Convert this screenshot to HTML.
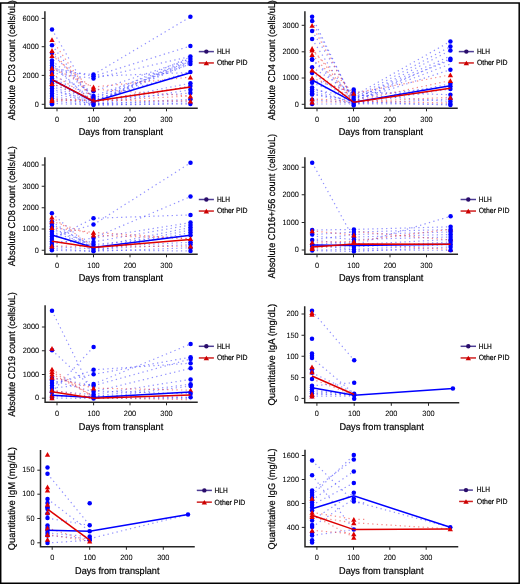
<!DOCTYPE html>
<html><head><meta charset="utf-8"><style>
html,body{margin:0;padding:0;background:#fff;}
body{width:520px;height:584px;overflow:hidden;}
svg{display:block;font-family:"Liberation Sans", sans-serif;text-rendering:geometricPrecision;will-change:transform;}
</style></head><body>
<svg width="520" height="584" viewBox="0 0 520 584">
<rect width="520" height="584" fill="#fff"/>
<line x1="52.00" y1="29.50" x2="93.50" y2="101.00" stroke="#4646ff" stroke-width="1.2" stroke-dasharray="1.3 3.3" stroke-opacity="0.6"/>
<line x1="52.00" y1="45.30" x2="93.50" y2="100.00" stroke="#4646ff" stroke-width="1.2" stroke-dasharray="1.3 3.3" stroke-opacity="0.6"/>
<line x1="52.00" y1="53.00" x2="93.50" y2="98.00" stroke="#4646ff" stroke-width="1.2" stroke-dasharray="1.3 3.3" stroke-opacity="0.6"/>
<line x1="52.00" y1="60.50" x2="93.50" y2="96.00" stroke="#4646ff" stroke-width="1.2" stroke-dasharray="1.3 3.3" stroke-opacity="0.6"/>
<line x1="52.00" y1="63.00" x2="93.50" y2="104.00" stroke="#4646ff" stroke-width="1.2" stroke-dasharray="1.3 3.3" stroke-opacity="0.6"/>
<line x1="52.00" y1="65.50" x2="93.50" y2="102.00" stroke="#4646ff" stroke-width="1.2" stroke-dasharray="1.3 3.3" stroke-opacity="0.6"/>
<line x1="52.00" y1="68.00" x2="93.50" y2="76.30" stroke="#4646ff" stroke-width="1.2" stroke-dasharray="1.3 3.3" stroke-opacity="0.6"/>
<line x1="52.00" y1="70.50" x2="93.50" y2="74.60" stroke="#4646ff" stroke-width="1.2" stroke-dasharray="1.3 3.3" stroke-opacity="0.6"/>
<line x1="52.00" y1="73.00" x2="93.50" y2="78.40" stroke="#4646ff" stroke-width="1.2" stroke-dasharray="1.3 3.3" stroke-opacity="0.6"/>
<line x1="52.00" y1="76.00" x2="93.50" y2="91.30" stroke="#4646ff" stroke-width="1.2" stroke-dasharray="1.3 3.3" stroke-opacity="0.6"/>
<line x1="52.00" y1="78.50" x2="93.50" y2="96.00" stroke="#4646ff" stroke-width="1.2" stroke-dasharray="1.3 3.3" stroke-opacity="0.6"/>
<line x1="52.00" y1="81.00" x2="93.50" y2="100.00" stroke="#4646ff" stroke-width="1.2" stroke-dasharray="1.3 3.3" stroke-opacity="0.6"/>
<line x1="52.00" y1="83.50" x2="93.50" y2="102.00" stroke="#4646ff" stroke-width="1.2" stroke-dasharray="1.3 3.3" stroke-opacity="0.6"/>
<line x1="52.00" y1="86.00" x2="93.50" y2="104.00" stroke="#4646ff" stroke-width="1.2" stroke-dasharray="1.3 3.3" stroke-opacity="0.6"/>
<line x1="52.00" y1="88.50" x2="93.50" y2="105.00" stroke="#4646ff" stroke-width="1.2" stroke-dasharray="1.3 3.3" stroke-opacity="0.6"/>
<line x1="52.00" y1="91.00" x2="93.50" y2="100.00" stroke="#4646ff" stroke-width="1.2" stroke-dasharray="1.3 3.3" stroke-opacity="0.6"/>
<line x1="52.00" y1="93.50" x2="93.50" y2="102.00" stroke="#4646ff" stroke-width="1.2" stroke-dasharray="1.3 3.3" stroke-opacity="0.6"/>
<line x1="52.00" y1="96.00" x2="93.50" y2="104.00" stroke="#4646ff" stroke-width="1.2" stroke-dasharray="1.3 3.3" stroke-opacity="0.6"/>
<line x1="52.00" y1="98.50" x2="93.50" y2="104.00" stroke="#4646ff" stroke-width="1.2" stroke-dasharray="1.3 3.3" stroke-opacity="0.6"/>
<line x1="52.00" y1="101.00" x2="93.50" y2="105.00" stroke="#4646ff" stroke-width="1.2" stroke-dasharray="1.3 3.3" stroke-opacity="0.6"/>
<line x1="52.00" y1="103.50" x2="93.50" y2="105.00" stroke="#4646ff" stroke-width="1.2" stroke-dasharray="1.3 3.3" stroke-opacity="0.6"/>
<line x1="52.00" y1="39.70" x2="93.50" y2="100.20" stroke="#ee4040" stroke-width="1.2" stroke-dasharray="1.3 3.3" stroke-opacity="0.6"/>
<line x1="52.00" y1="50.50" x2="93.50" y2="100.20" stroke="#ee4040" stroke-width="1.2" stroke-dasharray="1.3 3.3" stroke-opacity="0.6"/>
<line x1="52.00" y1="55.50" x2="93.50" y2="89.10" stroke="#ee4040" stroke-width="1.2" stroke-dasharray="1.3 3.3" stroke-opacity="0.6"/>
<line x1="52.00" y1="68.10" x2="93.50" y2="87.00" stroke="#ee4040" stroke-width="1.2" stroke-dasharray="1.3 3.3" stroke-opacity="0.6"/>
<line x1="52.00" y1="73.70" x2="93.50" y2="100.20" stroke="#ee4040" stroke-width="1.2" stroke-dasharray="1.3 3.3" stroke-opacity="0.6"/>
<line x1="52.00" y1="83.50" x2="93.50" y2="100.20" stroke="#ee4040" stroke-width="1.2" stroke-dasharray="1.3 3.3" stroke-opacity="0.6"/>
<line x1="52.00" y1="99.00" x2="93.50" y2="100.20" stroke="#ee4040" stroke-width="1.2" stroke-dasharray="1.3 3.3" stroke-opacity="0.6"/>
<line x1="52.00" y1="100.70" x2="93.50" y2="100.20" stroke="#ee4040" stroke-width="1.2" stroke-dasharray="1.3 3.3" stroke-opacity="0.6"/>
<line x1="93.50" y1="74.60" x2="190.40" y2="16.80" stroke="#4646ff" stroke-width="1.2" stroke-dasharray="1.3 3.3" stroke-opacity="0.6"/>
<line x1="93.50" y1="76.30" x2="190.40" y2="46.00" stroke="#4646ff" stroke-width="1.2" stroke-dasharray="1.3 3.3" stroke-opacity="0.6"/>
<line x1="93.50" y1="78.40" x2="190.40" y2="56.50" stroke="#4646ff" stroke-width="1.2" stroke-dasharray="1.3 3.3" stroke-opacity="0.6"/>
<line x1="93.50" y1="91.30" x2="190.40" y2="59.00" stroke="#4646ff" stroke-width="1.2" stroke-dasharray="1.3 3.3" stroke-opacity="0.6"/>
<line x1="93.50" y1="96.00" x2="190.40" y2="61.50" stroke="#4646ff" stroke-width="1.2" stroke-dasharray="1.3 3.3" stroke-opacity="0.6"/>
<line x1="93.50" y1="98.00" x2="190.40" y2="64.00" stroke="#4646ff" stroke-width="1.2" stroke-dasharray="1.3 3.3" stroke-opacity="0.6"/>
<line x1="93.50" y1="100.00" x2="190.40" y2="72.00" stroke="#4646ff" stroke-width="1.2" stroke-dasharray="1.3 3.3" stroke-opacity="0.6"/>
<line x1="93.50" y1="102.00" x2="190.40" y2="83.20" stroke="#4646ff" stroke-width="1.2" stroke-dasharray="1.3 3.3" stroke-opacity="0.6"/>
<line x1="93.50" y1="104.00" x2="190.40" y2="86.10" stroke="#4646ff" stroke-width="1.2" stroke-dasharray="1.3 3.3" stroke-opacity="0.6"/>
<line x1="93.50" y1="105.00" x2="190.40" y2="89.80" stroke="#4646ff" stroke-width="1.2" stroke-dasharray="1.3 3.3" stroke-opacity="0.6"/>
<line x1="93.50" y1="100.00" x2="190.40" y2="93.10" stroke="#4646ff" stroke-width="1.2" stroke-dasharray="1.3 3.3" stroke-opacity="0.6"/>
<line x1="93.50" y1="104.00" x2="190.40" y2="99.30" stroke="#4646ff" stroke-width="1.2" stroke-dasharray="1.3 3.3" stroke-opacity="0.6"/>
<line x1="93.50" y1="105.00" x2="190.40" y2="104.00" stroke="#4646ff" stroke-width="1.2" stroke-dasharray="1.3 3.3" stroke-opacity="0.6"/>
<line x1="93.50" y1="101.00" x2="190.40" y2="61.50" stroke="#4646ff" stroke-width="1.2" stroke-dasharray="1.3 3.3" stroke-opacity="0.6"/>
<line x1="93.50" y1="103.00" x2="190.40" y2="64.00" stroke="#4646ff" stroke-width="1.2" stroke-dasharray="1.3 3.3" stroke-opacity="0.6"/>
<line x1="93.50" y1="99.00" x2="190.40" y2="57.00" stroke="#4646ff" stroke-width="1.2" stroke-dasharray="1.3 3.3" stroke-opacity="0.6"/>
<line x1="93.50" y1="76.30" x2="190.40" y2="72.50" stroke="#4646ff" stroke-width="1.2" stroke-dasharray="1.3 3.3" stroke-opacity="0.6"/>
<line x1="93.50" y1="102.00" x2="190.40" y2="60.00" stroke="#4646ff" stroke-width="1.2" stroke-dasharray="1.3 3.3" stroke-opacity="0.6"/>
<line x1="93.50" y1="103.00" x2="190.40" y2="62.50" stroke="#4646ff" stroke-width="1.2" stroke-dasharray="1.3 3.3" stroke-opacity="0.6"/>
<line x1="93.50" y1="104.00" x2="190.40" y2="58.00" stroke="#4646ff" stroke-width="1.2" stroke-dasharray="1.3 3.3" stroke-opacity="0.6"/>
<line x1="93.50" y1="105.00" x2="190.40" y2="103.00" stroke="#4646ff" stroke-width="1.2" stroke-dasharray="1.3 3.3" stroke-opacity="0.6"/>
<line x1="93.50" y1="104.00" x2="190.40" y2="101.00" stroke="#4646ff" stroke-width="1.2" stroke-dasharray="1.3 3.3" stroke-opacity="0.6"/>
<line x1="93.50" y1="87.00" x2="190.40" y2="77.10" stroke="#ee4040" stroke-width="1.2" stroke-dasharray="1.3 3.3" stroke-opacity="0.6"/>
<line x1="93.50" y1="89.10" x2="190.40" y2="96.00" stroke="#ee4040" stroke-width="1.2" stroke-dasharray="1.3 3.3" stroke-opacity="0.6"/>
<line x1="93.50" y1="100.20" x2="190.40" y2="101.00" stroke="#ee4040" stroke-width="1.2" stroke-dasharray="1.3 3.3" stroke-opacity="0.6"/>
<line x1="93.50" y1="101.20" x2="190.40" y2="96.00" stroke="#ee4040" stroke-width="1.2" stroke-dasharray="1.3 3.3" stroke-opacity="0.6"/>
<line x1="93.50" y1="101.20" x2="190.40" y2="86.50" stroke="#ee4040" stroke-width="1.2" stroke-dasharray="1.3 3.3" stroke-opacity="0.6"/>
<circle cx="52.00" cy="29.50" r="2.25" fill="#0000ff"/>
<circle cx="52.00" cy="45.30" r="2.25" fill="#0000ff"/>
<circle cx="52.00" cy="53.00" r="2.25" fill="#0000ff"/>
<circle cx="52.00" cy="60.50" r="2.25" fill="#0000ff"/>
<circle cx="52.00" cy="63.00" r="2.25" fill="#0000ff"/>
<circle cx="52.00" cy="65.50" r="2.25" fill="#0000ff"/>
<circle cx="52.00" cy="68.00" r="2.25" fill="#0000ff"/>
<circle cx="52.00" cy="70.50" r="2.25" fill="#0000ff"/>
<circle cx="52.00" cy="73.00" r="2.25" fill="#0000ff"/>
<circle cx="52.00" cy="76.00" r="2.25" fill="#0000ff"/>
<circle cx="52.00" cy="78.50" r="2.25" fill="#0000ff"/>
<circle cx="52.00" cy="81.00" r="2.25" fill="#0000ff"/>
<circle cx="52.00" cy="83.50" r="2.25" fill="#0000ff"/>
<circle cx="52.00" cy="86.00" r="2.25" fill="#0000ff"/>
<circle cx="52.00" cy="88.50" r="2.25" fill="#0000ff"/>
<circle cx="52.00" cy="91.00" r="2.25" fill="#0000ff"/>
<circle cx="52.00" cy="93.50" r="2.25" fill="#0000ff"/>
<circle cx="52.00" cy="96.00" r="2.25" fill="#0000ff"/>
<circle cx="52.00" cy="98.50" r="2.25" fill="#0000ff"/>
<circle cx="52.00" cy="101.00" r="2.25" fill="#0000ff"/>
<circle cx="52.00" cy="103.50" r="2.25" fill="#0000ff"/>
<circle cx="52.00" cy="104.30" r="2.25" fill="#0000ff"/>
<path d="M49.35 42.10L54.65 42.10L52.00 37.30Z" fill="#dd0000"/>
<path d="M49.35 52.90L54.65 52.90L52.00 48.10Z" fill="#dd0000"/>
<path d="M49.35 57.90L54.65 57.90L52.00 53.10Z" fill="#dd0000"/>
<path d="M49.35 70.50L54.65 70.50L52.00 65.70Z" fill="#dd0000"/>
<path d="M49.35 76.10L54.65 76.10L52.00 71.30Z" fill="#dd0000"/>
<path d="M49.35 85.90L54.65 85.90L52.00 81.10Z" fill="#dd0000"/>
<path d="M49.35 101.40L54.65 101.40L52.00 96.60Z" fill="#dd0000"/>
<path d="M49.35 103.10L54.65 103.10L52.00 98.30Z" fill="#dd0000"/>
<circle cx="93.50" cy="74.60" r="2.25" fill="#0000ff"/>
<circle cx="93.50" cy="76.30" r="2.25" fill="#0000ff"/>
<circle cx="93.50" cy="78.40" r="2.25" fill="#0000ff"/>
<circle cx="93.50" cy="91.30" r="2.25" fill="#0000ff"/>
<circle cx="93.50" cy="96.00" r="2.25" fill="#0000ff"/>
<circle cx="93.50" cy="98.00" r="2.25" fill="#0000ff"/>
<circle cx="93.50" cy="100.00" r="2.25" fill="#0000ff"/>
<circle cx="93.50" cy="102.00" r="2.25" fill="#0000ff"/>
<circle cx="93.50" cy="104.00" r="2.25" fill="#0000ff"/>
<circle cx="93.50" cy="105.00" r="2.25" fill="#0000ff"/>
<path d="M90.85 89.40L96.15 89.40L93.50 84.60Z" fill="#dd0000"/>
<path d="M90.85 91.50L96.15 91.50L93.50 86.70Z" fill="#dd0000"/>
<path d="M90.85 102.60L96.15 102.60L93.50 97.80Z" fill="#dd0000"/>
<circle cx="190.40" cy="16.80" r="2.25" fill="#0000ff"/>
<circle cx="190.40" cy="46.00" r="2.25" fill="#0000ff"/>
<circle cx="190.40" cy="56.50" r="2.25" fill="#0000ff"/>
<circle cx="190.40" cy="59.00" r="2.25" fill="#0000ff"/>
<circle cx="190.40" cy="61.50" r="2.25" fill="#0000ff"/>
<circle cx="190.40" cy="64.00" r="2.25" fill="#0000ff"/>
<circle cx="190.40" cy="72.00" r="2.25" fill="#0000ff"/>
<circle cx="190.40" cy="83.20" r="2.25" fill="#0000ff"/>
<circle cx="190.40" cy="86.10" r="2.25" fill="#0000ff"/>
<circle cx="190.40" cy="89.80" r="2.25" fill="#0000ff"/>
<circle cx="190.40" cy="93.10" r="2.25" fill="#0000ff"/>
<circle cx="190.40" cy="99.30" r="2.25" fill="#0000ff"/>
<circle cx="190.40" cy="104.00" r="2.25" fill="#0000ff"/>
<path d="M187.75 79.50L193.05 79.50L190.40 74.70Z" fill="#dd0000"/>
<path d="M187.75 98.40L193.05 98.40L190.40 93.60Z" fill="#dd0000"/>
<path d="M187.75 103.40L193.05 103.40L190.40 98.60Z" fill="#dd0000"/>
<polyline points="52.00,79.50 93.50,101.80 190.40,72.80" fill="none" stroke="#0000ff" stroke-width="1.5"/>
<polyline points="52.00,79.70 93.50,101.20 190.40,87.00" fill="none" stroke="#dd0000" stroke-width="1.5"/>
<path d="M44.90 12.00V108.30H197.00" fill="none" stroke="#262626" stroke-width="1.5" stroke-linecap="square"/>
<line x1="41.70" y1="104.30" x2="44.90" y2="104.30" stroke="#262626" stroke-width="1"/>
<text x="38.90" y="106.55" font-size="7.7" text-anchor="end" fill="#000" stroke="#000" stroke-width="0.05" textLength="4.1" lengthAdjust="spacingAndGlyphs">0</text>
<line x1="41.70" y1="75.40" x2="44.90" y2="75.40" stroke="#262626" stroke-width="1"/>
<text x="38.90" y="77.65" font-size="7.7" text-anchor="end" fill="#000" stroke="#000" stroke-width="0.05" textLength="16.4" lengthAdjust="spacingAndGlyphs">2000</text>
<line x1="41.70" y1="46.70" x2="44.90" y2="46.70" stroke="#262626" stroke-width="1"/>
<text x="38.90" y="48.95" font-size="7.7" text-anchor="end" fill="#000" stroke="#000" stroke-width="0.05" textLength="16.4" lengthAdjust="spacingAndGlyphs">4000</text>
<line x1="41.70" y1="18.40" x2="44.90" y2="18.40" stroke="#262626" stroke-width="1"/>
<text x="38.90" y="20.65" font-size="7.7" text-anchor="end" fill="#000" stroke="#000" stroke-width="0.05" textLength="16.4" lengthAdjust="spacingAndGlyphs">6000</text>
<line x1="57.00" y1="108.30" x2="57.00" y2="111.30" stroke="#262626" stroke-width="1"/>
<text x="57.00" y="121.60" font-size="7.7" text-anchor="middle" fill="#000" stroke="#000" stroke-width="0.05" textLength="4.1" lengthAdjust="spacingAndGlyphs">0</text>
<line x1="93.50" y1="108.30" x2="93.50" y2="111.30" stroke="#262626" stroke-width="1"/>
<text x="93.50" y="121.60" font-size="7.7" text-anchor="middle" fill="#000" stroke="#000" stroke-width="0.05" textLength="12.299999999999999" lengthAdjust="spacingAndGlyphs">100</text>
<line x1="130.00" y1="108.30" x2="130.00" y2="111.30" stroke="#262626" stroke-width="1"/>
<text x="130.00" y="121.60" font-size="7.7" text-anchor="middle" fill="#000" stroke="#000" stroke-width="0.05" textLength="12.299999999999999" lengthAdjust="spacingAndGlyphs">200</text>
<line x1="166.50" y1="108.30" x2="166.50" y2="111.30" stroke="#262626" stroke-width="1"/>
<text x="166.50" y="121.60" font-size="7.7" text-anchor="middle" fill="#000" stroke="#000" stroke-width="0.05" textLength="12.299999999999999" lengthAdjust="spacingAndGlyphs">300</text>
<text x="120.95" y="134.90" font-size="9.75" text-anchor="middle" fill="#000" stroke="#000" stroke-width="0.2" textLength="84.4" lengthAdjust="spacingAndGlyphs">Days from transplant</text>
<text x="0" y="0" transform="translate(14.80,60.20) rotate(-90)" font-size="9.8" text-anchor="middle" fill="#000" stroke="#000" stroke-width="0.2" textLength="120" lengthAdjust="spacingAndGlyphs">Absolute CD3 count (cells/uL)</text>
<line x1="198.80" y1="51.60" x2="213.90" y2="51.60" stroke="#4d3d95" stroke-width="1.5"/>
<circle cx="206.35" cy="51.60" r="2.2" fill="#2a0d6b"/>
<line x1="198.80" y1="62.95" x2="213.90" y2="62.95" stroke="#d02020" stroke-width="1.5"/>
<path d="M203.65 65.35L209.05 65.35L206.35 60.75Z" fill="#cc0000"/>
<text x="216.90" y="53.95" font-size="7.6" text-anchor="start" fill="#000" stroke="#000" stroke-width="0.2" textLength="13.1" lengthAdjust="spacingAndGlyphs">HLH</text>
<text x="216.90" y="65.35" font-size="7.6" text-anchor="start" fill="#000" stroke="#000" stroke-width="0.2" textLength="30.7" lengthAdjust="spacingAndGlyphs">Other PID</text>
<line x1="312.10" y1="16.70" x2="353.70" y2="102.00" stroke="#4646ff" stroke-width="1.2" stroke-dasharray="1.3 3.3" stroke-opacity="0.6"/>
<line x1="312.10" y1="21.10" x2="353.70" y2="100.00" stroke="#4646ff" stroke-width="1.2" stroke-dasharray="1.3 3.3" stroke-opacity="0.6"/>
<line x1="312.10" y1="31.00" x2="353.70" y2="98.00" stroke="#4646ff" stroke-width="1.2" stroke-dasharray="1.3 3.3" stroke-opacity="0.6"/>
<line x1="312.10" y1="39.10" x2="353.70" y2="104.00" stroke="#4646ff" stroke-width="1.2" stroke-dasharray="1.3 3.3" stroke-opacity="0.6"/>
<line x1="312.10" y1="59.20" x2="353.70" y2="96.00" stroke="#4646ff" stroke-width="1.2" stroke-dasharray="1.3 3.3" stroke-opacity="0.6"/>
<line x1="312.10" y1="59.70" x2="353.70" y2="101.00" stroke="#4646ff" stroke-width="1.2" stroke-dasharray="1.3 3.3" stroke-opacity="0.6"/>
<line x1="312.10" y1="67.20" x2="353.70" y2="94.00" stroke="#4646ff" stroke-width="1.2" stroke-dasharray="1.3 3.3" stroke-opacity="0.6"/>
<line x1="312.10" y1="72.90" x2="353.70" y2="103.00" stroke="#4646ff" stroke-width="1.2" stroke-dasharray="1.3 3.3" stroke-opacity="0.6"/>
<line x1="312.10" y1="80.00" x2="353.70" y2="92.00" stroke="#4646ff" stroke-width="1.2" stroke-dasharray="1.3 3.3" stroke-opacity="0.6"/>
<line x1="312.10" y1="82.80" x2="353.70" y2="99.00" stroke="#4646ff" stroke-width="1.2" stroke-dasharray="1.3 3.3" stroke-opacity="0.6"/>
<line x1="312.10" y1="87.50" x2="353.70" y2="104.00" stroke="#4646ff" stroke-width="1.2" stroke-dasharray="1.3 3.3" stroke-opacity="0.6"/>
<line x1="312.10" y1="89.50" x2="353.70" y2="97.00" stroke="#4646ff" stroke-width="1.2" stroke-dasharray="1.3 3.3" stroke-opacity="0.6"/>
<line x1="312.10" y1="91.50" x2="353.70" y2="102.00" stroke="#4646ff" stroke-width="1.2" stroke-dasharray="1.3 3.3" stroke-opacity="0.6"/>
<line x1="312.10" y1="93.50" x2="353.70" y2="104.00" stroke="#4646ff" stroke-width="1.2" stroke-dasharray="1.3 3.3" stroke-opacity="0.6"/>
<line x1="312.10" y1="94.50" x2="353.70" y2="100.00" stroke="#4646ff" stroke-width="1.2" stroke-dasharray="1.3 3.3" stroke-opacity="0.6"/>
<line x1="312.10" y1="99.70" x2="353.70" y2="103.00" stroke="#4646ff" stroke-width="1.2" stroke-dasharray="1.3 3.3" stroke-opacity="0.6"/>
<line x1="312.10" y1="104.00" x2="353.70" y2="104.00" stroke="#4646ff" stroke-width="1.2" stroke-dasharray="1.3 3.3" stroke-opacity="0.6"/>
<line x1="312.10" y1="25.40" x2="353.70" y2="101.00" stroke="#ee4040" stroke-width="1.2" stroke-dasharray="1.3 3.3" stroke-opacity="0.6"/>
<line x1="312.10" y1="48.50" x2="353.70" y2="101.00" stroke="#ee4040" stroke-width="1.2" stroke-dasharray="1.3 3.3" stroke-opacity="0.6"/>
<line x1="312.10" y1="50.20" x2="353.70" y2="93.30" stroke="#ee4040" stroke-width="1.2" stroke-dasharray="1.3 3.3" stroke-opacity="0.6"/>
<line x1="312.10" y1="54.50" x2="353.70" y2="101.00" stroke="#ee4040" stroke-width="1.2" stroke-dasharray="1.3 3.3" stroke-opacity="0.6"/>
<line x1="312.10" y1="70.00" x2="353.70" y2="101.00" stroke="#ee4040" stroke-width="1.2" stroke-dasharray="1.3 3.3" stroke-opacity="0.6"/>
<line x1="312.10" y1="78.00" x2="353.70" y2="93.30" stroke="#ee4040" stroke-width="1.2" stroke-dasharray="1.3 3.3" stroke-opacity="0.6"/>
<line x1="312.10" y1="98.80" x2="353.70" y2="101.00" stroke="#ee4040" stroke-width="1.2" stroke-dasharray="1.3 3.3" stroke-opacity="0.6"/>
<line x1="312.10" y1="102.00" x2="353.70" y2="102.00" stroke="#ee4040" stroke-width="1.2" stroke-dasharray="1.3 3.3" stroke-opacity="0.6"/>
<line x1="353.70" y1="96.00" x2="450.40" y2="41.40" stroke="#4646ff" stroke-width="1.2" stroke-dasharray="1.3 3.3" stroke-opacity="0.6"/>
<line x1="353.70" y1="98.00" x2="450.40" y2="46.60" stroke="#4646ff" stroke-width="1.2" stroke-dasharray="1.3 3.3" stroke-opacity="0.6"/>
<line x1="353.70" y1="100.00" x2="450.40" y2="50.40" stroke="#4646ff" stroke-width="1.2" stroke-dasharray="1.3 3.3" stroke-opacity="0.6"/>
<line x1="353.70" y1="102.00" x2="450.40" y2="58.70" stroke="#4646ff" stroke-width="1.2" stroke-dasharray="1.3 3.3" stroke-opacity="0.6"/>
<line x1="353.70" y1="99.00" x2="450.40" y2="60.00" stroke="#4646ff" stroke-width="1.2" stroke-dasharray="1.3 3.3" stroke-opacity="0.6"/>
<line x1="353.70" y1="101.00" x2="450.40" y2="69.70" stroke="#4646ff" stroke-width="1.2" stroke-dasharray="1.3 3.3" stroke-opacity="0.6"/>
<line x1="353.70" y1="103.00" x2="450.40" y2="83.80" stroke="#4646ff" stroke-width="1.2" stroke-dasharray="1.3 3.3" stroke-opacity="0.6"/>
<line x1="353.70" y1="97.00" x2="450.40" y2="86.30" stroke="#4646ff" stroke-width="1.2" stroke-dasharray="1.3 3.3" stroke-opacity="0.6"/>
<line x1="353.70" y1="104.00" x2="450.40" y2="88.90" stroke="#4646ff" stroke-width="1.2" stroke-dasharray="1.3 3.3" stroke-opacity="0.6"/>
<line x1="353.70" y1="92.00" x2="450.40" y2="94.70" stroke="#4646ff" stroke-width="1.2" stroke-dasharray="1.3 3.3" stroke-opacity="0.6"/>
<line x1="353.70" y1="104.00" x2="450.40" y2="99.00" stroke="#4646ff" stroke-width="1.2" stroke-dasharray="1.3 3.3" stroke-opacity="0.6"/>
<line x1="353.70" y1="94.50" x2="450.40" y2="101.50" stroke="#4646ff" stroke-width="1.2" stroke-dasharray="1.3 3.3" stroke-opacity="0.6"/>
<line x1="353.70" y1="104.00" x2="450.40" y2="104.00" stroke="#4646ff" stroke-width="1.2" stroke-dasharray="1.3 3.3" stroke-opacity="0.6"/>
<line x1="353.70" y1="102.00" x2="450.40" y2="105.00" stroke="#4646ff" stroke-width="1.2" stroke-dasharray="1.3 3.3" stroke-opacity="0.6"/>
<line x1="353.70" y1="99.00" x2="450.40" y2="56.00" stroke="#4646ff" stroke-width="1.2" stroke-dasharray="1.3 3.3" stroke-opacity="0.6"/>
<line x1="353.70" y1="101.00" x2="450.40" y2="64.00" stroke="#4646ff" stroke-width="1.2" stroke-dasharray="1.3 3.3" stroke-opacity="0.6"/>
<line x1="353.70" y1="93.30" x2="450.40" y2="74.80" stroke="#ee4040" stroke-width="1.2" stroke-dasharray="1.3 3.3" stroke-opacity="0.6"/>
<line x1="353.70" y1="101.00" x2="450.40" y2="80.60" stroke="#ee4040" stroke-width="1.2" stroke-dasharray="1.3 3.3" stroke-opacity="0.6"/>
<line x1="353.70" y1="102.00" x2="450.40" y2="97.30" stroke="#ee4040" stroke-width="1.2" stroke-dasharray="1.3 3.3" stroke-opacity="0.6"/>
<line x1="353.70" y1="101.00" x2="450.40" y2="103.00" stroke="#ee4040" stroke-width="1.2" stroke-dasharray="1.3 3.3" stroke-opacity="0.6"/>
<circle cx="312.10" cy="16.70" r="2.25" fill="#0000ff"/>
<circle cx="312.10" cy="21.10" r="2.25" fill="#0000ff"/>
<circle cx="312.10" cy="31.00" r="2.25" fill="#0000ff"/>
<circle cx="312.10" cy="39.10" r="2.25" fill="#0000ff"/>
<circle cx="312.10" cy="59.20" r="2.25" fill="#0000ff"/>
<circle cx="312.10" cy="59.70" r="2.25" fill="#0000ff"/>
<circle cx="312.10" cy="67.20" r="2.25" fill="#0000ff"/>
<circle cx="312.10" cy="72.90" r="2.25" fill="#0000ff"/>
<circle cx="312.10" cy="80.00" r="2.25" fill="#0000ff"/>
<circle cx="312.10" cy="82.80" r="2.25" fill="#0000ff"/>
<circle cx="312.10" cy="87.50" r="2.25" fill="#0000ff"/>
<circle cx="312.10" cy="89.50" r="2.25" fill="#0000ff"/>
<circle cx="312.10" cy="91.50" r="2.25" fill="#0000ff"/>
<circle cx="312.10" cy="93.50" r="2.25" fill="#0000ff"/>
<circle cx="312.10" cy="94.50" r="2.25" fill="#0000ff"/>
<circle cx="312.10" cy="99.70" r="2.25" fill="#0000ff"/>
<circle cx="312.10" cy="104.00" r="2.25" fill="#0000ff"/>
<path d="M309.45 27.80L314.75 27.80L312.10 23.00Z" fill="#dd0000"/>
<path d="M309.45 50.90L314.75 50.90L312.10 46.10Z" fill="#dd0000"/>
<path d="M309.45 52.60L314.75 52.60L312.10 47.80Z" fill="#dd0000"/>
<path d="M309.45 56.90L314.75 56.90L312.10 52.10Z" fill="#dd0000"/>
<path d="M309.45 72.40L314.75 72.40L312.10 67.60Z" fill="#dd0000"/>
<path d="M309.45 80.40L314.75 80.40L312.10 75.60Z" fill="#dd0000"/>
<path d="M309.45 101.20L314.75 101.20L312.10 96.40Z" fill="#dd0000"/>
<path d="M309.45 104.40L314.75 104.40L312.10 99.60Z" fill="#dd0000"/>
<circle cx="353.70" cy="89.50" r="2.25" fill="#0000ff"/>
<circle cx="353.70" cy="92.00" r="2.25" fill="#0000ff"/>
<circle cx="353.70" cy="94.50" r="2.25" fill="#0000ff"/>
<circle cx="353.70" cy="97.00" r="2.25" fill="#0000ff"/>
<circle cx="353.70" cy="99.50" r="2.25" fill="#0000ff"/>
<circle cx="353.70" cy="102.00" r="2.25" fill="#0000ff"/>
<circle cx="353.70" cy="104.00" r="2.25" fill="#0000ff"/>
<circle cx="353.70" cy="105.50" r="2.25" fill="#0000ff"/>
<path d="M351.05 95.70L356.35 95.70L353.70 90.90Z" fill="#dd0000"/>
<circle cx="450.40" cy="41.40" r="2.25" fill="#0000ff"/>
<circle cx="450.40" cy="46.60" r="2.25" fill="#0000ff"/>
<circle cx="450.40" cy="50.40" r="2.25" fill="#0000ff"/>
<circle cx="450.40" cy="58.70" r="2.25" fill="#0000ff"/>
<circle cx="450.40" cy="60.00" r="2.25" fill="#0000ff"/>
<circle cx="450.40" cy="69.70" r="2.25" fill="#0000ff"/>
<circle cx="450.40" cy="83.80" r="2.25" fill="#0000ff"/>
<circle cx="450.40" cy="86.30" r="2.25" fill="#0000ff"/>
<circle cx="450.40" cy="88.90" r="2.25" fill="#0000ff"/>
<circle cx="450.40" cy="94.70" r="2.25" fill="#0000ff"/>
<circle cx="450.40" cy="99.00" r="2.25" fill="#0000ff"/>
<circle cx="450.40" cy="101.50" r="2.25" fill="#0000ff"/>
<circle cx="450.40" cy="104.00" r="2.25" fill="#0000ff"/>
<circle cx="450.40" cy="105.00" r="2.25" fill="#0000ff"/>
<path d="M447.75 77.20L453.05 77.20L450.40 72.40Z" fill="#dd0000"/>
<path d="M447.75 83.00L453.05 83.00L450.40 78.20Z" fill="#dd0000"/>
<path d="M447.75 99.70L453.05 99.70L450.40 94.90Z" fill="#dd0000"/>
<polyline points="312.10,80.00 353.70,102.30 450.40,85.70" fill="none" stroke="#0000ff" stroke-width="1.5"/>
<polyline points="312.10,70.50 353.70,102.30 450.40,88.30" fill="none" stroke="#dd0000" stroke-width="1.5"/>
<path d="M304.90 12.00V108.30H457.00" fill="none" stroke="#262626" stroke-width="1.5" stroke-linecap="square"/>
<line x1="301.70" y1="104.30" x2="304.90" y2="104.30" stroke="#262626" stroke-width="1"/>
<text x="298.90" y="106.55" font-size="7.7" text-anchor="end" fill="#000" stroke="#000" stroke-width="0.05" textLength="4.1" lengthAdjust="spacingAndGlyphs">0</text>
<line x1="301.70" y1="78.00" x2="304.90" y2="78.00" stroke="#262626" stroke-width="1"/>
<text x="298.90" y="80.25" font-size="7.7" text-anchor="end" fill="#000" stroke="#000" stroke-width="0.05" textLength="16.4" lengthAdjust="spacingAndGlyphs">1000</text>
<line x1="301.70" y1="51.80" x2="304.90" y2="51.80" stroke="#262626" stroke-width="1"/>
<text x="298.90" y="54.05" font-size="7.7" text-anchor="end" fill="#000" stroke="#000" stroke-width="0.05" textLength="16.4" lengthAdjust="spacingAndGlyphs">2000</text>
<line x1="301.70" y1="25.30" x2="304.90" y2="25.30" stroke="#262626" stroke-width="1"/>
<text x="298.90" y="27.55" font-size="7.7" text-anchor="end" fill="#000" stroke="#000" stroke-width="0.05" textLength="16.4" lengthAdjust="spacingAndGlyphs">3000</text>
<line x1="317.00" y1="108.30" x2="317.00" y2="111.30" stroke="#262626" stroke-width="1"/>
<text x="317.00" y="121.60" font-size="7.7" text-anchor="middle" fill="#000" stroke="#000" stroke-width="0.05" textLength="4.1" lengthAdjust="spacingAndGlyphs">0</text>
<line x1="353.50" y1="108.30" x2="353.50" y2="111.30" stroke="#262626" stroke-width="1"/>
<text x="353.50" y="121.60" font-size="7.7" text-anchor="middle" fill="#000" stroke="#000" stroke-width="0.05" textLength="12.299999999999999" lengthAdjust="spacingAndGlyphs">100</text>
<line x1="390.00" y1="108.30" x2="390.00" y2="111.30" stroke="#262626" stroke-width="1"/>
<text x="390.00" y="121.60" font-size="7.7" text-anchor="middle" fill="#000" stroke="#000" stroke-width="0.05" textLength="12.299999999999999" lengthAdjust="spacingAndGlyphs">200</text>
<line x1="426.50" y1="108.30" x2="426.50" y2="111.30" stroke="#262626" stroke-width="1"/>
<text x="426.50" y="121.60" font-size="7.7" text-anchor="middle" fill="#000" stroke="#000" stroke-width="0.05" textLength="12.299999999999999" lengthAdjust="spacingAndGlyphs">300</text>
<text x="380.95" y="134.90" font-size="9.75" text-anchor="middle" fill="#000" stroke="#000" stroke-width="0.2" textLength="84.4" lengthAdjust="spacingAndGlyphs">Days from transplant</text>
<text x="0" y="0" transform="translate(274.90,60.20) rotate(-90)" font-size="9.8" text-anchor="middle" fill="#000" stroke="#000" stroke-width="0.2" textLength="120" lengthAdjust="spacingAndGlyphs">Absolute CD4 count (cells/uL)</text>
<line x1="458.80" y1="51.60" x2="473.90" y2="51.60" stroke="#4d3d95" stroke-width="1.5"/>
<circle cx="466.35" cy="51.60" r="2.2" fill="#2a0d6b"/>
<line x1="458.80" y1="62.95" x2="473.90" y2="62.95" stroke="#d02020" stroke-width="1.5"/>
<path d="M463.65 65.35L469.05 65.35L466.35 60.75Z" fill="#cc0000"/>
<text x="476.90" y="53.95" font-size="7.6" text-anchor="start" fill="#000" stroke="#000" stroke-width="0.2" textLength="13.1" lengthAdjust="spacingAndGlyphs">HLH</text>
<text x="476.90" y="65.35" font-size="7.6" text-anchor="start" fill="#000" stroke="#000" stroke-width="0.2" textLength="30.7" lengthAdjust="spacingAndGlyphs">Other PID</text>
<line x1="51.90" y1="213.30" x2="93.50" y2="250.00" stroke="#4646ff" stroke-width="1.2" stroke-dasharray="1.3 3.3" stroke-opacity="0.6"/>
<line x1="51.90" y1="221.60" x2="93.50" y2="249.00" stroke="#4646ff" stroke-width="1.2" stroke-dasharray="1.3 3.3" stroke-opacity="0.6"/>
<line x1="51.90" y1="224.00" x2="93.50" y2="247.00" stroke="#4646ff" stroke-width="1.2" stroke-dasharray="1.3 3.3" stroke-opacity="0.6"/>
<line x1="51.90" y1="226.50" x2="93.50" y2="251.30" stroke="#4646ff" stroke-width="1.2" stroke-dasharray="1.3 3.3" stroke-opacity="0.6"/>
<line x1="51.90" y1="229.00" x2="93.50" y2="244.60" stroke="#4646ff" stroke-width="1.2" stroke-dasharray="1.3 3.3" stroke-opacity="0.6"/>
<line x1="51.90" y1="231.50" x2="93.50" y2="247.00" stroke="#4646ff" stroke-width="1.2" stroke-dasharray="1.3 3.3" stroke-opacity="0.6"/>
<line x1="51.90" y1="234.00" x2="93.50" y2="249.00" stroke="#4646ff" stroke-width="1.2" stroke-dasharray="1.3 3.3" stroke-opacity="0.6"/>
<line x1="51.90" y1="236.50" x2="93.50" y2="224.60" stroke="#4646ff" stroke-width="1.2" stroke-dasharray="1.3 3.3" stroke-opacity="0.6"/>
<line x1="51.90" y1="239.00" x2="93.50" y2="218.30" stroke="#4646ff" stroke-width="1.2" stroke-dasharray="1.3 3.3" stroke-opacity="0.6"/>
<line x1="51.90" y1="241.50" x2="93.50" y2="241.90" stroke="#4646ff" stroke-width="1.2" stroke-dasharray="1.3 3.3" stroke-opacity="0.6"/>
<line x1="51.90" y1="244.00" x2="93.50" y2="238.00" stroke="#4646ff" stroke-width="1.2" stroke-dasharray="1.3 3.3" stroke-opacity="0.6"/>
<line x1="51.90" y1="246.50" x2="93.50" y2="249.00" stroke="#4646ff" stroke-width="1.2" stroke-dasharray="1.3 3.3" stroke-opacity="0.6"/>
<line x1="51.90" y1="248.50" x2="93.50" y2="251.30" stroke="#4646ff" stroke-width="1.2" stroke-dasharray="1.3 3.3" stroke-opacity="0.6"/>
<line x1="51.90" y1="250.30" x2="93.50" y2="251.30" stroke="#4646ff" stroke-width="1.2" stroke-dasharray="1.3 3.3" stroke-opacity="0.6"/>
<line x1="51.90" y1="217.20" x2="93.50" y2="246.60" stroke="#ee4040" stroke-width="1.2" stroke-dasharray="1.3 3.3" stroke-opacity="0.6"/>
<line x1="51.90" y1="221.10" x2="93.50" y2="235.20" stroke="#ee4040" stroke-width="1.2" stroke-dasharray="1.3 3.3" stroke-opacity="0.6"/>
<line x1="51.90" y1="227.70" x2="93.50" y2="232.40" stroke="#ee4040" stroke-width="1.2" stroke-dasharray="1.3 3.3" stroke-opacity="0.6"/>
<line x1="51.90" y1="246.00" x2="93.50" y2="246.60" stroke="#ee4040" stroke-width="1.2" stroke-dasharray="1.3 3.3" stroke-opacity="0.6"/>
<line x1="93.50" y1="224.60" x2="190.50" y2="162.80" stroke="#4646ff" stroke-width="1.2" stroke-dasharray="1.3 3.3" stroke-opacity="0.6"/>
<line x1="93.50" y1="218.30" x2="190.50" y2="214.90" stroke="#4646ff" stroke-width="1.2" stroke-dasharray="1.3 3.3" stroke-opacity="0.6"/>
<line x1="93.50" y1="238.00" x2="190.50" y2="196.60" stroke="#4646ff" stroke-width="1.2" stroke-dasharray="1.3 3.3" stroke-opacity="0.6"/>
<line x1="93.50" y1="238.00" x2="190.50" y2="222.60" stroke="#4646ff" stroke-width="1.2" stroke-dasharray="1.3 3.3" stroke-opacity="0.6"/>
<line x1="93.50" y1="241.90" x2="190.50" y2="225.00" stroke="#4646ff" stroke-width="1.2" stroke-dasharray="1.3 3.3" stroke-opacity="0.6"/>
<line x1="93.50" y1="247.00" x2="190.50" y2="227.50" stroke="#4646ff" stroke-width="1.2" stroke-dasharray="1.3 3.3" stroke-opacity="0.6"/>
<line x1="93.50" y1="249.00" x2="190.50" y2="230.00" stroke="#4646ff" stroke-width="1.2" stroke-dasharray="1.3 3.3" stroke-opacity="0.6"/>
<line x1="93.50" y1="251.30" x2="190.50" y2="232.50" stroke="#4646ff" stroke-width="1.2" stroke-dasharray="1.3 3.3" stroke-opacity="0.6"/>
<line x1="93.50" y1="244.60" x2="190.50" y2="235.20" stroke="#4646ff" stroke-width="1.2" stroke-dasharray="1.3 3.3" stroke-opacity="0.6"/>
<line x1="93.50" y1="247.00" x2="190.50" y2="242.30" stroke="#4646ff" stroke-width="1.2" stroke-dasharray="1.3 3.3" stroke-opacity="0.6"/>
<line x1="93.50" y1="249.00" x2="190.50" y2="244.60" stroke="#4646ff" stroke-width="1.2" stroke-dasharray="1.3 3.3" stroke-opacity="0.6"/>
<line x1="93.50" y1="251.30" x2="190.50" y2="247.80" stroke="#4646ff" stroke-width="1.2" stroke-dasharray="1.3 3.3" stroke-opacity="0.6"/>
<line x1="93.50" y1="250.00" x2="190.50" y2="251.00" stroke="#4646ff" stroke-width="1.2" stroke-dasharray="1.3 3.3" stroke-opacity="0.6"/>
<line x1="93.50" y1="232.40" x2="190.50" y2="238.70" stroke="#ee4040" stroke-width="1.2" stroke-dasharray="1.3 3.3" stroke-opacity="0.6"/>
<line x1="93.50" y1="235.20" x2="190.50" y2="238.70" stroke="#ee4040" stroke-width="1.2" stroke-dasharray="1.3 3.3" stroke-opacity="0.6"/>
<line x1="93.50" y1="246.60" x2="190.50" y2="246.20" stroke="#ee4040" stroke-width="1.2" stroke-dasharray="1.3 3.3" stroke-opacity="0.6"/>
<circle cx="51.90" cy="213.30" r="2.25" fill="#0000ff"/>
<circle cx="51.90" cy="221.60" r="2.25" fill="#0000ff"/>
<circle cx="51.90" cy="224.00" r="2.25" fill="#0000ff"/>
<circle cx="51.90" cy="226.50" r="2.25" fill="#0000ff"/>
<circle cx="51.90" cy="229.00" r="2.25" fill="#0000ff"/>
<circle cx="51.90" cy="231.50" r="2.25" fill="#0000ff"/>
<circle cx="51.90" cy="234.00" r="2.25" fill="#0000ff"/>
<circle cx="51.90" cy="236.50" r="2.25" fill="#0000ff"/>
<circle cx="51.90" cy="239.00" r="2.25" fill="#0000ff"/>
<circle cx="51.90" cy="241.50" r="2.25" fill="#0000ff"/>
<circle cx="51.90" cy="244.00" r="2.25" fill="#0000ff"/>
<circle cx="51.90" cy="246.50" r="2.25" fill="#0000ff"/>
<circle cx="51.90" cy="248.50" r="2.25" fill="#0000ff"/>
<circle cx="51.90" cy="250.30" r="2.25" fill="#0000ff"/>
<path d="M49.25 219.60L54.55 219.60L51.90 214.80Z" fill="#dd0000"/>
<path d="M49.25 223.50L54.55 223.50L51.90 218.70Z" fill="#dd0000"/>
<path d="M49.25 230.10L54.55 230.10L51.90 225.30Z" fill="#dd0000"/>
<path d="M49.25 248.40L54.55 248.40L51.90 243.60Z" fill="#dd0000"/>
<circle cx="93.50" cy="218.30" r="2.25" fill="#0000ff"/>
<circle cx="93.50" cy="224.60" r="2.25" fill="#0000ff"/>
<circle cx="93.50" cy="238.00" r="2.25" fill="#0000ff"/>
<circle cx="93.50" cy="241.90" r="2.25" fill="#0000ff"/>
<circle cx="93.50" cy="244.60" r="2.25" fill="#0000ff"/>
<circle cx="93.50" cy="247.00" r="2.25" fill="#0000ff"/>
<circle cx="93.50" cy="249.00" r="2.25" fill="#0000ff"/>
<circle cx="93.50" cy="251.30" r="2.25" fill="#0000ff"/>
<path d="M90.85 234.80L96.15 234.80L93.50 230.00Z" fill="#dd0000"/>
<path d="M90.85 237.60L96.15 237.60L93.50 232.80Z" fill="#dd0000"/>
<circle cx="190.50" cy="162.80" r="2.25" fill="#0000ff"/>
<circle cx="190.50" cy="196.60" r="2.25" fill="#0000ff"/>
<circle cx="190.50" cy="214.90" r="2.25" fill="#0000ff"/>
<circle cx="190.50" cy="222.60" r="2.25" fill="#0000ff"/>
<circle cx="190.50" cy="225.00" r="2.25" fill="#0000ff"/>
<circle cx="190.50" cy="227.50" r="2.25" fill="#0000ff"/>
<circle cx="190.50" cy="230.00" r="2.25" fill="#0000ff"/>
<circle cx="190.50" cy="232.50" r="2.25" fill="#0000ff"/>
<circle cx="190.50" cy="235.20" r="2.25" fill="#0000ff"/>
<circle cx="190.50" cy="242.30" r="2.25" fill="#0000ff"/>
<circle cx="190.50" cy="244.60" r="2.25" fill="#0000ff"/>
<circle cx="190.50" cy="247.80" r="2.25" fill="#0000ff"/>
<circle cx="190.50" cy="251.00" r="2.25" fill="#0000ff"/>
<path d="M187.85 241.10L193.15 241.10L190.50 236.30Z" fill="#dd0000"/>
<path d="M187.85 248.60L193.15 248.60L190.50 243.80Z" fill="#dd0000"/>
<polyline points="51.90,235.00 93.50,247.40 190.50,235.20" fill="none" stroke="#0000ff" stroke-width="1.5"/>
<polyline points="51.90,241.30 93.50,247.40 190.50,239.50" fill="none" stroke="#dd0000" stroke-width="1.5"/>
<path d="M44.90 158.00V254.30H197.00" fill="none" stroke="#262626" stroke-width="1.5" stroke-linecap="square"/>
<line x1="41.70" y1="250.25" x2="44.90" y2="250.25" stroke="#262626" stroke-width="1"/>
<text x="38.90" y="252.50" font-size="7.7" text-anchor="end" fill="#000" stroke="#000" stroke-width="0.05" textLength="4.1" lengthAdjust="spacingAndGlyphs">0</text>
<line x1="41.70" y1="229.00" x2="44.90" y2="229.00" stroke="#262626" stroke-width="1"/>
<text x="38.90" y="231.25" font-size="7.7" text-anchor="end" fill="#000" stroke="#000" stroke-width="0.05" textLength="16.4" lengthAdjust="spacingAndGlyphs">1000</text>
<line x1="41.70" y1="207.75" x2="44.90" y2="207.75" stroke="#262626" stroke-width="1"/>
<text x="38.90" y="210.00" font-size="7.7" text-anchor="end" fill="#000" stroke="#000" stroke-width="0.05" textLength="16.4" lengthAdjust="spacingAndGlyphs">2000</text>
<line x1="41.70" y1="186.25" x2="44.90" y2="186.25" stroke="#262626" stroke-width="1"/>
<text x="38.90" y="188.50" font-size="7.7" text-anchor="end" fill="#000" stroke="#000" stroke-width="0.05" textLength="16.4" lengthAdjust="spacingAndGlyphs">3000</text>
<line x1="41.70" y1="165.00" x2="44.90" y2="165.00" stroke="#262626" stroke-width="1"/>
<text x="38.90" y="167.25" font-size="7.7" text-anchor="end" fill="#000" stroke="#000" stroke-width="0.05" textLength="16.4" lengthAdjust="spacingAndGlyphs">4000</text>
<line x1="57.00" y1="254.30" x2="57.00" y2="257.30" stroke="#262626" stroke-width="1"/>
<text x="57.00" y="267.60" font-size="7.7" text-anchor="middle" fill="#000" stroke="#000" stroke-width="0.05" textLength="4.1" lengthAdjust="spacingAndGlyphs">0</text>
<line x1="93.50" y1="254.30" x2="93.50" y2="257.30" stroke="#262626" stroke-width="1"/>
<text x="93.50" y="267.60" font-size="7.7" text-anchor="middle" fill="#000" stroke="#000" stroke-width="0.05" textLength="12.299999999999999" lengthAdjust="spacingAndGlyphs">100</text>
<line x1="130.00" y1="254.30" x2="130.00" y2="257.30" stroke="#262626" stroke-width="1"/>
<text x="130.00" y="267.60" font-size="7.7" text-anchor="middle" fill="#000" stroke="#000" stroke-width="0.05" textLength="12.299999999999999" lengthAdjust="spacingAndGlyphs">200</text>
<line x1="166.50" y1="254.30" x2="166.50" y2="257.30" stroke="#262626" stroke-width="1"/>
<text x="166.50" y="267.60" font-size="7.7" text-anchor="middle" fill="#000" stroke="#000" stroke-width="0.05" textLength="12.299999999999999" lengthAdjust="spacingAndGlyphs">300</text>
<text x="120.95" y="280.90" font-size="9.75" text-anchor="middle" fill="#000" stroke="#000" stroke-width="0.2" textLength="84.4" lengthAdjust="spacingAndGlyphs">Days from transplant</text>
<text x="0" y="0" transform="translate(14.80,206.20) rotate(-90)" font-size="9.8" text-anchor="middle" fill="#000" stroke="#000" stroke-width="0.2" textLength="120" lengthAdjust="spacingAndGlyphs">Absolute CD8 count (cells/uL)</text>
<line x1="198.80" y1="199.50" x2="213.90" y2="199.50" stroke="#4d3d95" stroke-width="1.5"/>
<circle cx="206.35" cy="199.50" r="2.2" fill="#2a0d6b"/>
<line x1="198.80" y1="211.05" x2="213.90" y2="211.05" stroke="#d02020" stroke-width="1.5"/>
<path d="M203.65 213.45L209.05 213.45L206.35 208.85Z" fill="#cc0000"/>
<text x="216.90" y="201.85" font-size="7.6" text-anchor="start" fill="#000" stroke="#000" stroke-width="0.2" textLength="13.1" lengthAdjust="spacingAndGlyphs">HLH</text>
<text x="216.90" y="213.45" font-size="7.6" text-anchor="start" fill="#000" stroke="#000" stroke-width="0.2" textLength="30.7" lengthAdjust="spacingAndGlyphs">Other PID</text>
<line x1="312.20" y1="162.75" x2="353.90" y2="239.00" stroke="#4646ff" stroke-width="1.2" stroke-dasharray="1.3 3.3" stroke-opacity="0.6"/>
<line x1="312.20" y1="230.10" x2="353.90" y2="229.40" stroke="#4646ff" stroke-width="1.2" stroke-dasharray="1.3 3.3" stroke-opacity="0.6"/>
<line x1="312.20" y1="234.60" x2="353.90" y2="232.00" stroke="#4646ff" stroke-width="1.2" stroke-dasharray="1.3 3.3" stroke-opacity="0.6"/>
<line x1="312.20" y1="239.90" x2="353.90" y2="234.50" stroke="#4646ff" stroke-width="1.2" stroke-dasharray="1.3 3.3" stroke-opacity="0.6"/>
<line x1="312.20" y1="244.60" x2="353.90" y2="242.00" stroke="#4646ff" stroke-width="1.2" stroke-dasharray="1.3 3.3" stroke-opacity="0.6"/>
<line x1="312.20" y1="246.50" x2="353.90" y2="247.00" stroke="#4646ff" stroke-width="1.2" stroke-dasharray="1.3 3.3" stroke-opacity="0.6"/>
<line x1="312.20" y1="250.60" x2="353.90" y2="251.50" stroke="#4646ff" stroke-width="1.2" stroke-dasharray="1.3 3.3" stroke-opacity="0.6"/>
<line x1="312.20" y1="240.00" x2="353.90" y2="244.50" stroke="#4646ff" stroke-width="1.2" stroke-dasharray="1.3 3.3" stroke-opacity="0.6"/>
<line x1="312.20" y1="245.00" x2="353.90" y2="249.50" stroke="#4646ff" stroke-width="1.2" stroke-dasharray="1.3 3.3" stroke-opacity="0.6"/>
<line x1="312.20" y1="250.00" x2="353.90" y2="249.50" stroke="#4646ff" stroke-width="1.2" stroke-dasharray="1.3 3.3" stroke-opacity="0.6"/>
<line x1="312.20" y1="236.00" x2="353.90" y2="239.50" stroke="#4646ff" stroke-width="1.2" stroke-dasharray="1.3 3.3" stroke-opacity="0.6"/>
<line x1="312.20" y1="230.90" x2="353.90" y2="235.00" stroke="#ee4040" stroke-width="1.2" stroke-dasharray="1.3 3.3" stroke-opacity="0.6"/>
<line x1="312.20" y1="242.30" x2="353.90" y2="241.30" stroke="#ee4040" stroke-width="1.2" stroke-dasharray="1.3 3.3" stroke-opacity="0.6"/>
<line x1="312.20" y1="247.00" x2="353.90" y2="243.90" stroke="#ee4040" stroke-width="1.2" stroke-dasharray="1.3 3.3" stroke-opacity="0.6"/>
<line x1="312.20" y1="248.60" x2="353.90" y2="243.90" stroke="#ee4040" stroke-width="1.2" stroke-dasharray="1.3 3.3" stroke-opacity="0.6"/>
<line x1="353.90" y1="245.00" x2="450.60" y2="216.30" stroke="#4646ff" stroke-width="1.2" stroke-dasharray="1.3 3.3" stroke-opacity="0.6"/>
<line x1="353.90" y1="229.40" x2="450.60" y2="226.80" stroke="#4646ff" stroke-width="1.2" stroke-dasharray="1.3 3.3" stroke-opacity="0.6"/>
<line x1="353.90" y1="232.00" x2="450.60" y2="229.50" stroke="#4646ff" stroke-width="1.2" stroke-dasharray="1.3 3.3" stroke-opacity="0.6"/>
<line x1="353.90" y1="234.50" x2="450.60" y2="232.00" stroke="#4646ff" stroke-width="1.2" stroke-dasharray="1.3 3.3" stroke-opacity="0.6"/>
<line x1="353.90" y1="237.00" x2="450.60" y2="234.50" stroke="#4646ff" stroke-width="1.2" stroke-dasharray="1.3 3.3" stroke-opacity="0.6"/>
<line x1="353.90" y1="239.50" x2="450.60" y2="237.00" stroke="#4646ff" stroke-width="1.2" stroke-dasharray="1.3 3.3" stroke-opacity="0.6"/>
<line x1="353.90" y1="244.50" x2="450.60" y2="239.50" stroke="#4646ff" stroke-width="1.2" stroke-dasharray="1.3 3.3" stroke-opacity="0.6"/>
<line x1="353.90" y1="247.00" x2="450.60" y2="242.00" stroke="#4646ff" stroke-width="1.2" stroke-dasharray="1.3 3.3" stroke-opacity="0.6"/>
<line x1="353.90" y1="249.50" x2="450.60" y2="244.50" stroke="#4646ff" stroke-width="1.2" stroke-dasharray="1.3 3.3" stroke-opacity="0.6"/>
<line x1="353.90" y1="251.50" x2="450.60" y2="247.00" stroke="#4646ff" stroke-width="1.2" stroke-dasharray="1.3 3.3" stroke-opacity="0.6"/>
<line x1="353.90" y1="250.00" x2="450.60" y2="250.30" stroke="#4646ff" stroke-width="1.2" stroke-dasharray="1.3 3.3" stroke-opacity="0.6"/>
<line x1="353.90" y1="231.40" x2="450.60" y2="240.00" stroke="#ee4040" stroke-width="1.2" stroke-dasharray="1.3 3.3" stroke-opacity="0.6"/>
<line x1="353.90" y1="241.30" x2="450.60" y2="229.20" stroke="#ee4040" stroke-width="1.2" stroke-dasharray="1.3 3.3" stroke-opacity="0.6"/>
<line x1="353.90" y1="243.90" x2="450.60" y2="249.40" stroke="#ee4040" stroke-width="1.2" stroke-dasharray="1.3 3.3" stroke-opacity="0.6"/>
<circle cx="312.20" cy="162.75" r="2.25" fill="#0000ff"/>
<circle cx="312.20" cy="230.10" r="2.25" fill="#0000ff"/>
<circle cx="312.20" cy="234.60" r="2.25" fill="#0000ff"/>
<circle cx="312.20" cy="239.90" r="2.25" fill="#0000ff"/>
<circle cx="312.20" cy="244.60" r="2.25" fill="#0000ff"/>
<circle cx="312.20" cy="246.50" r="2.25" fill="#0000ff"/>
<circle cx="312.20" cy="250.60" r="2.25" fill="#0000ff"/>
<path d="M309.55 233.30L314.85 233.30L312.20 228.50Z" fill="#dd0000"/>
<path d="M309.55 244.70L314.85 244.70L312.20 239.90Z" fill="#dd0000"/>
<path d="M309.55 249.40L314.85 249.40L312.20 244.60Z" fill="#dd0000"/>
<path d="M309.55 251.00L314.85 251.00L312.20 246.20Z" fill="#dd0000"/>
<circle cx="353.90" cy="229.40" r="2.25" fill="#0000ff"/>
<circle cx="353.90" cy="232.00" r="2.25" fill="#0000ff"/>
<circle cx="353.90" cy="234.50" r="2.25" fill="#0000ff"/>
<circle cx="353.90" cy="237.00" r="2.25" fill="#0000ff"/>
<circle cx="353.90" cy="239.50" r="2.25" fill="#0000ff"/>
<circle cx="353.90" cy="242.00" r="2.25" fill="#0000ff"/>
<circle cx="353.90" cy="244.50" r="2.25" fill="#0000ff"/>
<circle cx="353.90" cy="247.00" r="2.25" fill="#0000ff"/>
<circle cx="353.90" cy="249.50" r="2.25" fill="#0000ff"/>
<circle cx="353.90" cy="251.50" r="2.25" fill="#0000ff"/>
<path d="M351.25 237.40L356.55 237.40L353.90 232.60Z" fill="#dd0000"/>
<path d="M351.25 243.70L356.55 243.70L353.90 238.90Z" fill="#dd0000"/>
<path d="M447.95 231.60L453.25 231.60L450.60 226.80Z" fill="#dd0000"/>
<path d="M447.95 241.20L453.25 241.20L450.60 236.40Z" fill="#dd0000"/>
<path d="M447.95 251.80L453.25 251.80L450.60 247.00Z" fill="#dd0000"/>
<circle cx="450.60" cy="216.30" r="2.25" fill="#0000ff"/>
<circle cx="450.60" cy="226.80" r="2.25" fill="#0000ff"/>
<circle cx="450.60" cy="229.50" r="2.25" fill="#0000ff"/>
<circle cx="450.60" cy="232.00" r="2.25" fill="#0000ff"/>
<circle cx="450.60" cy="234.50" r="2.25" fill="#0000ff"/>
<circle cx="450.60" cy="237.00" r="2.25" fill="#0000ff"/>
<circle cx="450.60" cy="239.50" r="2.25" fill="#0000ff"/>
<circle cx="450.60" cy="242.00" r="2.25" fill="#0000ff"/>
<circle cx="450.60" cy="244.50" r="2.25" fill="#0000ff"/>
<circle cx="450.60" cy="247.00" r="2.25" fill="#0000ff"/>
<circle cx="450.60" cy="250.30" r="2.25" fill="#0000ff"/>
<polyline points="312.20,245.00 353.90,245.50 450.60,244.30" fill="none" stroke="#0000ff" stroke-width="1.5"/>
<polyline points="312.20,247.00 353.90,243.90 450.60,244.30" fill="none" stroke="#dd0000" stroke-width="1.5"/>
<path d="M304.90 158.00V254.30H457.30" fill="none" stroke="#262626" stroke-width="1.5" stroke-linecap="square"/>
<line x1="301.70" y1="250.00" x2="304.90" y2="250.00" stroke="#262626" stroke-width="1"/>
<text x="298.90" y="252.25" font-size="7.7" text-anchor="end" fill="#000" stroke="#000" stroke-width="0.05" textLength="4.1" lengthAdjust="spacingAndGlyphs">0</text>
<line x1="301.70" y1="222.50" x2="304.90" y2="222.50" stroke="#262626" stroke-width="1"/>
<text x="298.90" y="224.75" font-size="7.7" text-anchor="end" fill="#000" stroke="#000" stroke-width="0.05" textLength="16.4" lengthAdjust="spacingAndGlyphs">1000</text>
<line x1="301.70" y1="194.75" x2="304.90" y2="194.75" stroke="#262626" stroke-width="1"/>
<text x="298.90" y="197.00" font-size="7.7" text-anchor="end" fill="#000" stroke="#000" stroke-width="0.05" textLength="16.4" lengthAdjust="spacingAndGlyphs">2000</text>
<line x1="301.70" y1="167.25" x2="304.90" y2="167.25" stroke="#262626" stroke-width="1"/>
<text x="298.90" y="169.50" font-size="7.7" text-anchor="end" fill="#000" stroke="#000" stroke-width="0.05" textLength="16.4" lengthAdjust="spacingAndGlyphs">3000</text>
<line x1="317.00" y1="254.30" x2="317.00" y2="257.30" stroke="#262626" stroke-width="1"/>
<text x="317.00" y="267.60" font-size="7.7" text-anchor="middle" fill="#000" stroke="#000" stroke-width="0.05" textLength="4.1" lengthAdjust="spacingAndGlyphs">0</text>
<line x1="353.50" y1="254.30" x2="353.50" y2="257.30" stroke="#262626" stroke-width="1"/>
<text x="353.50" y="267.60" font-size="7.7" text-anchor="middle" fill="#000" stroke="#000" stroke-width="0.05" textLength="12.299999999999999" lengthAdjust="spacingAndGlyphs">100</text>
<line x1="390.00" y1="254.30" x2="390.00" y2="257.30" stroke="#262626" stroke-width="1"/>
<text x="390.00" y="267.60" font-size="7.7" text-anchor="middle" fill="#000" stroke="#000" stroke-width="0.05" textLength="12.299999999999999" lengthAdjust="spacingAndGlyphs">200</text>
<line x1="426.50" y1="254.30" x2="426.50" y2="257.30" stroke="#262626" stroke-width="1"/>
<text x="426.50" y="267.60" font-size="7.7" text-anchor="middle" fill="#000" stroke="#000" stroke-width="0.05" textLength="12.299999999999999" lengthAdjust="spacingAndGlyphs">300</text>
<text x="381.10" y="280.90" font-size="9.75" text-anchor="middle" fill="#000" stroke="#000" stroke-width="0.2" textLength="84.4" lengthAdjust="spacingAndGlyphs">Days from transplant</text>
<text x="0" y="0" transform="translate(274.90,206.20) rotate(-90)" font-size="9.8" text-anchor="middle" fill="#000" stroke="#000" stroke-width="0.2" textLength="144.5" lengthAdjust="spacingAndGlyphs">Absolute CD16+/56 count (cells/uL)</text>
<line x1="460.60" y1="199.50" x2="476.00" y2="199.50" stroke="#4d3d95" stroke-width="1.5"/>
<circle cx="468.30" cy="199.50" r="2.2" fill="#2a0d6b"/>
<line x1="460.60" y1="211.05" x2="476.00" y2="211.05" stroke="#d02020" stroke-width="1.5"/>
<path d="M465.60 213.45L471.00 213.45L468.30 208.85Z" fill="#cc0000"/>
<text x="478.70" y="201.85" font-size="7.6" text-anchor="start" fill="#000" stroke="#000" stroke-width="0.2" textLength="13.1" lengthAdjust="spacingAndGlyphs">HLH</text>
<text x="478.70" y="213.45" font-size="7.6" text-anchor="start" fill="#000" stroke="#000" stroke-width="0.2" textLength="30.7" lengthAdjust="spacingAndGlyphs">Other PID</text>
<line x1="52.00" y1="310.80" x2="93.60" y2="395.00" stroke="#4646ff" stroke-width="1.2" stroke-dasharray="1.3 3.3" stroke-opacity="0.6"/>
<line x1="52.00" y1="350.20" x2="93.60" y2="389.00" stroke="#4646ff" stroke-width="1.2" stroke-dasharray="1.3 3.3" stroke-opacity="0.6"/>
<line x1="52.00" y1="392.00" x2="93.60" y2="346.90" stroke="#4646ff" stroke-width="1.2" stroke-dasharray="1.3 3.3" stroke-opacity="0.6"/>
<line x1="52.00" y1="378.00" x2="93.60" y2="385.70" stroke="#4646ff" stroke-width="1.2" stroke-dasharray="1.3 3.3" stroke-opacity="0.6"/>
<line x1="52.00" y1="380.50" x2="93.60" y2="391.80" stroke="#4646ff" stroke-width="1.2" stroke-dasharray="1.3 3.3" stroke-opacity="0.6"/>
<line x1="52.00" y1="383.00" x2="93.60" y2="374.30" stroke="#4646ff" stroke-width="1.2" stroke-dasharray="1.3 3.3" stroke-opacity="0.6"/>
<line x1="52.00" y1="385.50" x2="93.60" y2="369.80" stroke="#4646ff" stroke-width="1.2" stroke-dasharray="1.3 3.3" stroke-opacity="0.6"/>
<line x1="52.00" y1="388.00" x2="93.60" y2="384.00" stroke="#4646ff" stroke-width="1.2" stroke-dasharray="1.3 3.3" stroke-opacity="0.6"/>
<line x1="52.00" y1="391.00" x2="93.60" y2="394.60" stroke="#4646ff" stroke-width="1.2" stroke-dasharray="1.3 3.3" stroke-opacity="0.6"/>
<line x1="52.00" y1="396.00" x2="93.60" y2="396.50" stroke="#4646ff" stroke-width="1.2" stroke-dasharray="1.3 3.3" stroke-opacity="0.6"/>
<line x1="52.00" y1="398.00" x2="93.60" y2="398.50" stroke="#4646ff" stroke-width="1.2" stroke-dasharray="1.3 3.3" stroke-opacity="0.6"/>
<line x1="52.00" y1="369.10" x2="93.60" y2="397.00" stroke="#ee4040" stroke-width="1.2" stroke-dasharray="1.3 3.3" stroke-opacity="0.6"/>
<line x1="52.00" y1="371.50" x2="93.60" y2="397.50" stroke="#ee4040" stroke-width="1.2" stroke-dasharray="1.3 3.3" stroke-opacity="0.6"/>
<line x1="52.00" y1="374.00" x2="93.60" y2="396.00" stroke="#ee4040" stroke-width="1.2" stroke-dasharray="1.3 3.3" stroke-opacity="0.6"/>
<line x1="52.00" y1="377.30" x2="93.60" y2="388.10" stroke="#ee4040" stroke-width="1.2" stroke-dasharray="1.3 3.3" stroke-opacity="0.6"/>
<line x1="52.00" y1="390.10" x2="93.60" y2="397.00" stroke="#ee4040" stroke-width="1.2" stroke-dasharray="1.3 3.3" stroke-opacity="0.6"/>
<line x1="52.00" y1="395.20" x2="93.60" y2="397.80" stroke="#ee4040" stroke-width="1.2" stroke-dasharray="1.3 3.3" stroke-opacity="0.6"/>
<line x1="93.60" y1="369.80" x2="190.60" y2="363.20" stroke="#4646ff" stroke-width="1.2" stroke-dasharray="1.3 3.3" stroke-opacity="0.6"/>
<line x1="93.60" y1="374.30" x2="190.60" y2="357.20" stroke="#4646ff" stroke-width="1.2" stroke-dasharray="1.3 3.3" stroke-opacity="0.6"/>
<line x1="93.60" y1="384.00" x2="190.60" y2="344.00" stroke="#4646ff" stroke-width="1.2" stroke-dasharray="1.3 3.3" stroke-opacity="0.6"/>
<line x1="93.60" y1="385.70" x2="190.60" y2="359.00" stroke="#4646ff" stroke-width="1.2" stroke-dasharray="1.3 3.3" stroke-opacity="0.6"/>
<line x1="93.60" y1="391.80" x2="190.60" y2="368.30" stroke="#4646ff" stroke-width="1.2" stroke-dasharray="1.3 3.3" stroke-opacity="0.6"/>
<line x1="93.60" y1="394.60" x2="190.60" y2="379.40" stroke="#4646ff" stroke-width="1.2" stroke-dasharray="1.3 3.3" stroke-opacity="0.6"/>
<line x1="93.60" y1="396.50" x2="190.60" y2="384.20" stroke="#4646ff" stroke-width="1.2" stroke-dasharray="1.3 3.3" stroke-opacity="0.6"/>
<line x1="93.60" y1="398.50" x2="190.60" y2="386.00" stroke="#4646ff" stroke-width="1.2" stroke-dasharray="1.3 3.3" stroke-opacity="0.6"/>
<line x1="93.60" y1="391.00" x2="190.60" y2="393.80" stroke="#4646ff" stroke-width="1.2" stroke-dasharray="1.3 3.3" stroke-opacity="0.6"/>
<line x1="93.60" y1="396.00" x2="190.60" y2="397.30" stroke="#4646ff" stroke-width="1.2" stroke-dasharray="1.3 3.3" stroke-opacity="0.6"/>
<line x1="93.60" y1="398.50" x2="190.60" y2="398.50" stroke="#4646ff" stroke-width="1.2" stroke-dasharray="1.3 3.3" stroke-opacity="0.6"/>
<line x1="93.60" y1="397.00" x2="190.60" y2="397.50" stroke="#4646ff" stroke-width="1.2" stroke-dasharray="1.3 3.3" stroke-opacity="0.6"/>
<line x1="93.60" y1="388.10" x2="190.60" y2="390.20" stroke="#ee4040" stroke-width="1.2" stroke-dasharray="1.3 3.3" stroke-opacity="0.6"/>
<line x1="93.60" y1="397.80" x2="190.60" y2="399.70" stroke="#ee4040" stroke-width="1.2" stroke-dasharray="1.3 3.3" stroke-opacity="0.6"/>
<circle cx="52.00" cy="310.80" r="2.25" fill="#0000ff"/>
<circle cx="52.00" cy="350.20" r="2.25" fill="#0000ff"/>
<circle cx="52.00" cy="378.00" r="2.25" fill="#0000ff"/>
<circle cx="52.00" cy="380.50" r="2.25" fill="#0000ff"/>
<circle cx="52.00" cy="383.00" r="2.25" fill="#0000ff"/>
<circle cx="52.00" cy="385.50" r="2.25" fill="#0000ff"/>
<circle cx="52.00" cy="388.00" r="2.25" fill="#0000ff"/>
<circle cx="52.00" cy="391.00" r="2.25" fill="#0000ff"/>
<circle cx="52.00" cy="392.20" r="2.25" fill="#0000ff"/>
<circle cx="52.00" cy="396.00" r="2.25" fill="#0000ff"/>
<circle cx="52.00" cy="398.00" r="2.25" fill="#0000ff"/>
<path d="M49.35 350.70L54.65 350.70L52.00 345.90Z" fill="#dd0000"/>
<path d="M49.35 371.50L54.65 371.50L52.00 366.70Z" fill="#dd0000"/>
<path d="M49.35 373.90L54.65 373.90L52.00 369.10Z" fill="#dd0000"/>
<path d="M49.35 376.40L54.65 376.40L52.00 371.60Z" fill="#dd0000"/>
<path d="M49.35 379.70L54.65 379.70L52.00 374.90Z" fill="#dd0000"/>
<path d="M49.35 392.50L54.65 392.50L52.00 387.70Z" fill="#dd0000"/>
<path d="M49.35 397.60L54.65 397.60L52.00 392.80Z" fill="#dd0000"/>
<path d="M49.35 400.20L54.65 400.20L52.00 395.40Z" fill="#dd0000"/>
<circle cx="93.60" cy="346.90" r="2.25" fill="#0000ff"/>
<circle cx="93.60" cy="369.80" r="2.25" fill="#0000ff"/>
<circle cx="93.60" cy="374.30" r="2.25" fill="#0000ff"/>
<circle cx="93.60" cy="384.00" r="2.25" fill="#0000ff"/>
<circle cx="93.60" cy="385.70" r="2.25" fill="#0000ff"/>
<circle cx="93.60" cy="391.80" r="2.25" fill="#0000ff"/>
<circle cx="93.60" cy="394.60" r="2.25" fill="#0000ff"/>
<circle cx="93.60" cy="396.50" r="2.25" fill="#0000ff"/>
<circle cx="93.60" cy="398.50" r="2.25" fill="#0000ff"/>
<path d="M90.95 390.50L96.25 390.50L93.60 385.70Z" fill="#dd0000"/>
<path d="M187.95 392.60L193.25 392.60L190.60 387.80Z" fill="#dd0000"/>
<circle cx="190.60" cy="344.00" r="2.25" fill="#0000ff"/>
<circle cx="190.60" cy="357.20" r="2.25" fill="#0000ff"/>
<circle cx="190.60" cy="359.00" r="2.25" fill="#0000ff"/>
<circle cx="190.60" cy="363.20" r="2.25" fill="#0000ff"/>
<circle cx="190.60" cy="368.30" r="2.25" fill="#0000ff"/>
<circle cx="190.60" cy="379.40" r="2.25" fill="#0000ff"/>
<circle cx="190.60" cy="384.20" r="2.25" fill="#0000ff"/>
<circle cx="190.60" cy="386.00" r="2.25" fill="#0000ff"/>
<circle cx="190.60" cy="393.80" r="2.25" fill="#0000ff"/>
<circle cx="190.60" cy="397.30" r="2.25" fill="#0000ff"/>
<polyline points="52.00,395.20 93.60,397.60 190.60,392.00" fill="none" stroke="#0000ff" stroke-width="1.5"/>
<polyline points="52.00,391.80 93.60,398.30 190.60,395.00" fill="none" stroke="#dd0000" stroke-width="1.5"/>
<path d="M45.10 306.00V402.30H197.00" fill="none" stroke="#262626" stroke-width="1.5" stroke-linecap="square"/>
<line x1="41.90" y1="398.20" x2="45.10" y2="398.20" stroke="#262626" stroke-width="1"/>
<text x="39.10" y="400.45" font-size="7.7" text-anchor="end" fill="#000" stroke="#000" stroke-width="0.05" textLength="4.1" lengthAdjust="spacingAndGlyphs">0</text>
<line x1="41.90" y1="374.50" x2="45.10" y2="374.50" stroke="#262626" stroke-width="1"/>
<text x="39.10" y="376.75" font-size="7.7" text-anchor="end" fill="#000" stroke="#000" stroke-width="0.05" textLength="16.4" lengthAdjust="spacingAndGlyphs">1000</text>
<line x1="41.90" y1="350.75" x2="45.10" y2="350.75" stroke="#262626" stroke-width="1"/>
<text x="39.10" y="353.00" font-size="7.7" text-anchor="end" fill="#000" stroke="#000" stroke-width="0.05" textLength="16.4" lengthAdjust="spacingAndGlyphs">2000</text>
<line x1="41.90" y1="327.00" x2="45.10" y2="327.00" stroke="#262626" stroke-width="1"/>
<text x="39.10" y="329.25" font-size="7.7" text-anchor="end" fill="#000" stroke="#000" stroke-width="0.05" textLength="16.4" lengthAdjust="spacingAndGlyphs">3000</text>
<line x1="57.00" y1="402.30" x2="57.00" y2="405.30" stroke="#262626" stroke-width="1"/>
<text x="57.00" y="415.70" font-size="7.7" text-anchor="middle" fill="#000" stroke="#000" stroke-width="0.05" textLength="4.1" lengthAdjust="spacingAndGlyphs">0</text>
<line x1="93.60" y1="402.30" x2="93.60" y2="405.30" stroke="#262626" stroke-width="1"/>
<text x="93.60" y="415.70" font-size="7.7" text-anchor="middle" fill="#000" stroke="#000" stroke-width="0.05" textLength="12.299999999999999" lengthAdjust="spacingAndGlyphs">100</text>
<line x1="130.00" y1="402.30" x2="130.00" y2="405.30" stroke="#262626" stroke-width="1"/>
<text x="130.00" y="415.70" font-size="7.7" text-anchor="middle" fill="#000" stroke="#000" stroke-width="0.05" textLength="12.299999999999999" lengthAdjust="spacingAndGlyphs">200</text>
<line x1="166.50" y1="402.30" x2="166.50" y2="405.30" stroke="#262626" stroke-width="1"/>
<text x="166.50" y="415.70" font-size="7.7" text-anchor="middle" fill="#000" stroke="#000" stroke-width="0.05" textLength="12.299999999999999" lengthAdjust="spacingAndGlyphs">300</text>
<text x="121.05" y="429.60" font-size="9.75" text-anchor="middle" fill="#000" stroke="#000" stroke-width="0.2" textLength="84.4" lengthAdjust="spacingAndGlyphs">Days from transplant</text>
<text x="0" y="0" transform="translate(14.80,354.50) rotate(-90)" font-size="9.8" text-anchor="middle" fill="#000" stroke="#000" stroke-width="0.2" textLength="124.7" lengthAdjust="spacingAndGlyphs">Absolute CD19 count (cells/uL)</text>
<line x1="198.80" y1="346.30" x2="213.90" y2="346.30" stroke="#4d3d95" stroke-width="1.5"/>
<circle cx="206.35" cy="346.30" r="2.2" fill="#2a0d6b"/>
<line x1="198.80" y1="357.95" x2="213.90" y2="357.95" stroke="#d02020" stroke-width="1.5"/>
<path d="M203.65 360.35L209.05 360.35L206.35 355.75Z" fill="#cc0000"/>
<text x="216.90" y="348.65" font-size="7.6" text-anchor="start" fill="#000" stroke="#000" stroke-width="0.2" textLength="13.1" lengthAdjust="spacingAndGlyphs">HLH</text>
<text x="216.90" y="360.35" font-size="7.6" text-anchor="start" fill="#000" stroke="#000" stroke-width="0.2" textLength="30.7" lengthAdjust="spacingAndGlyphs">Other PID</text>
<line x1="312.00" y1="310.80" x2="354.20" y2="360.30" stroke="#4646ff" stroke-width="1.2" stroke-dasharray="1.3 3.3" stroke-opacity="0.6"/>
<line x1="312.00" y1="357.90" x2="354.20" y2="393.70" stroke="#4646ff" stroke-width="1.2" stroke-dasharray="1.3 3.3" stroke-opacity="0.6"/>
<line x1="312.00" y1="385.70" x2="354.20" y2="382.70" stroke="#4646ff" stroke-width="1.2" stroke-dasharray="1.3 3.3" stroke-opacity="0.6"/>
<line x1="312.00" y1="379.00" x2="354.20" y2="395.20" stroke="#ee4040" stroke-width="1.2" stroke-dasharray="1.3 3.3" stroke-opacity="0.6"/>
<line x1="312.00" y1="390.00" x2="354.20" y2="395.20" stroke="#4646ff" stroke-width="1.2" stroke-dasharray="1.3 3.3" stroke-opacity="0.6"/>
<line x1="312.00" y1="393.50" x2="354.20" y2="395.20" stroke="#4646ff" stroke-width="1.2" stroke-dasharray="1.3 3.3" stroke-opacity="0.6"/>
<line x1="312.00" y1="396.20" x2="354.20" y2="396.00" stroke="#4646ff" stroke-width="1.2" stroke-dasharray="1.3 3.3" stroke-opacity="0.6"/>
<line x1="312.00" y1="394.00" x2="354.20" y2="394.50" stroke="#4646ff" stroke-width="1.2" stroke-dasharray="1.3 3.3" stroke-opacity="0.6"/>
<line x1="312.00" y1="392.00" x2="354.20" y2="393.40" stroke="#4646ff" stroke-width="1.2" stroke-dasharray="1.3 3.3" stroke-opacity="0.6"/>
<line x1="312.00" y1="372.80" x2="354.20" y2="393.00" stroke="#4646ff" stroke-width="1.2" stroke-dasharray="1.3 3.3" stroke-opacity="0.6"/>
<circle cx="312.00" cy="310.80" r="2.25" fill="#0000ff"/>
<circle cx="312.00" cy="338.70" r="2.25" fill="#0000ff"/>
<circle cx="312.00" cy="353.40" r="2.25" fill="#0000ff"/>
<circle cx="312.00" cy="355.80" r="2.25" fill="#0000ff"/>
<circle cx="312.00" cy="357.90" r="2.25" fill="#0000ff"/>
<circle cx="312.00" cy="369.20" r="2.25" fill="#0000ff"/>
<circle cx="312.00" cy="372.80" r="2.25" fill="#0000ff"/>
<circle cx="312.00" cy="379.00" r="2.25" fill="#0000ff"/>
<circle cx="312.00" cy="385.70" r="2.25" fill="#0000ff"/>
<circle cx="312.00" cy="387.50" r="2.25" fill="#0000ff"/>
<circle cx="312.00" cy="389.50" r="2.25" fill="#0000ff"/>
<circle cx="312.00" cy="391.50" r="2.25" fill="#0000ff"/>
<circle cx="312.00" cy="393.50" r="2.25" fill="#0000ff"/>
<circle cx="312.00" cy="396.20" r="2.25" fill="#0000ff"/>
<path d="M309.35 315.00L314.65 315.00L312.00 310.20Z" fill="#dd0000"/>
<path d="M309.35 316.80L314.65 316.80L312.00 312.00Z" fill="#dd0000"/>
<path d="M309.35 369.20L314.65 369.20L312.00 364.40Z" fill="#dd0000"/>
<path d="M309.35 374.20L314.65 374.20L312.00 369.40Z" fill="#dd0000"/>
<path d="M309.35 396.40L314.65 396.40L312.00 391.60Z" fill="#dd0000"/>
<path d="M309.35 398.40L314.65 398.40L312.00 393.60Z" fill="#dd0000"/>
<circle cx="354.20" cy="360.30" r="2.25" fill="#0000ff"/>
<circle cx="354.20" cy="382.70" r="2.25" fill="#0000ff"/>
<circle cx="354.20" cy="393.70" r="2.25" fill="#0000ff"/>
<circle cx="354.20" cy="395.20" r="2.25" fill="#0000ff"/>
<circle cx="354.20" cy="398.80" r="2.25" fill="#0000ff"/>
<circle cx="452.90" cy="388.60" r="2.25" fill="#0000ff"/>
<polyline points="312.00,387.70 354.20,395.30 452.90,388.60" fill="none" stroke="#0000ff" stroke-width="1.5"/>
<polyline points="312.00,376.00 354.20,394.50" fill="none" stroke="#dd0000" stroke-width="1.5"/>
<path d="M304.70 307.00V402.80H458.50" fill="none" stroke="#262626" stroke-width="1.5" stroke-linecap="square"/>
<line x1="301.50" y1="398.40" x2="304.70" y2="398.40" stroke="#262626" stroke-width="1"/>
<text x="298.70" y="400.65" font-size="7.7" text-anchor="end" fill="#000" stroke="#000" stroke-width="0.05" textLength="4.1" lengthAdjust="spacingAndGlyphs">0</text>
<line x1="301.50" y1="377.60" x2="304.70" y2="377.60" stroke="#262626" stroke-width="1"/>
<text x="298.70" y="379.85" font-size="7.7" text-anchor="end" fill="#000" stroke="#000" stroke-width="0.05" textLength="8.2" lengthAdjust="spacingAndGlyphs">50</text>
<line x1="301.50" y1="356.25" x2="304.70" y2="356.25" stroke="#262626" stroke-width="1"/>
<text x="298.70" y="358.50" font-size="7.7" text-anchor="end" fill="#000" stroke="#000" stroke-width="0.05" textLength="12.299999999999999" lengthAdjust="spacingAndGlyphs">100</text>
<line x1="301.50" y1="335.25" x2="304.70" y2="335.25" stroke="#262626" stroke-width="1"/>
<text x="298.70" y="337.50" font-size="7.7" text-anchor="end" fill="#000" stroke="#000" stroke-width="0.05" textLength="12.299999999999999" lengthAdjust="spacingAndGlyphs">150</text>
<line x1="301.50" y1="314.00" x2="304.70" y2="314.00" stroke="#262626" stroke-width="1"/>
<text x="298.70" y="316.25" font-size="7.7" text-anchor="end" fill="#000" stroke="#000" stroke-width="0.05" textLength="12.299999999999999" lengthAdjust="spacingAndGlyphs">200</text>
<line x1="316.90" y1="402.80" x2="316.90" y2="405.80" stroke="#262626" stroke-width="1"/>
<text x="316.90" y="416.00" font-size="7.7" text-anchor="middle" fill="#000" stroke="#000" stroke-width="0.05" textLength="4.1" lengthAdjust="spacingAndGlyphs">0</text>
<line x1="354.20" y1="402.80" x2="354.20" y2="405.80" stroke="#262626" stroke-width="1"/>
<text x="354.20" y="416.00" font-size="7.7" text-anchor="middle" fill="#000" stroke="#000" stroke-width="0.05" textLength="12.299999999999999" lengthAdjust="spacingAndGlyphs">100</text>
<line x1="391.30" y1="402.80" x2="391.30" y2="405.80" stroke="#262626" stroke-width="1"/>
<text x="391.30" y="416.00" font-size="7.7" text-anchor="middle" fill="#000" stroke="#000" stroke-width="0.05" textLength="12.299999999999999" lengthAdjust="spacingAndGlyphs">200</text>
<line x1="428.50" y1="402.80" x2="428.50" y2="405.80" stroke="#262626" stroke-width="1"/>
<text x="428.50" y="416.00" font-size="7.7" text-anchor="middle" fill="#000" stroke="#000" stroke-width="0.05" textLength="12.299999999999999" lengthAdjust="spacingAndGlyphs">300</text>
<text x="381.60" y="429.60" font-size="9.75" text-anchor="middle" fill="#000" stroke="#000" stroke-width="0.2" textLength="84.4" lengthAdjust="spacingAndGlyphs">Days from transplant</text>
<text x="0" y="0" transform="translate(274.90,354.70) rotate(-90)" font-size="9.8" text-anchor="middle" fill="#000" stroke="#000" stroke-width="0.2" textLength="101.6" lengthAdjust="spacingAndGlyphs">Quantitative IgA (mg/dL)</text>
<line x1="460.60" y1="346.30" x2="476.00" y2="346.30" stroke="#4d3d95" stroke-width="1.5"/>
<circle cx="468.30" cy="346.30" r="2.2" fill="#2a0d6b"/>
<line x1="460.60" y1="357.95" x2="476.00" y2="357.95" stroke="#d02020" stroke-width="1.5"/>
<path d="M465.60 360.35L471.00 360.35L468.30 355.75Z" fill="#cc0000"/>
<text x="478.70" y="348.65" font-size="7.6" text-anchor="start" fill="#000" stroke="#000" stroke-width="0.2" textLength="13.1" lengthAdjust="spacingAndGlyphs">HLH</text>
<text x="478.70" y="360.35" font-size="7.6" text-anchor="start" fill="#000" stroke="#000" stroke-width="0.2" textLength="30.7" lengthAdjust="spacingAndGlyphs">Other PID</text>
<line x1="47.50" y1="473.70" x2="89.70" y2="525.30" stroke="#4646ff" stroke-width="1.2" stroke-dasharray="1.3 3.3" stroke-opacity="0.6"/>
<line x1="47.50" y1="498.90" x2="89.70" y2="531.20" stroke="#4646ff" stroke-width="1.2" stroke-dasharray="1.3 3.3" stroke-opacity="0.6"/>
<line x1="47.50" y1="518.10" x2="89.70" y2="525.30" stroke="#4646ff" stroke-width="1.2" stroke-dasharray="1.3 3.3" stroke-opacity="0.6"/>
<line x1="47.50" y1="533.00" x2="89.70" y2="536.60" stroke="#4646ff" stroke-width="1.2" stroke-dasharray="1.3 3.3" stroke-opacity="0.6"/>
<line x1="47.50" y1="535.50" x2="89.70" y2="538.70" stroke="#4646ff" stroke-width="1.2" stroke-dasharray="1.3 3.3" stroke-opacity="0.6"/>
<line x1="47.50" y1="528.00" x2="89.70" y2="541.20" stroke="#ee4040" stroke-width="1.2" stroke-dasharray="1.3 3.3" stroke-opacity="0.6"/>
<line x1="47.50" y1="534.50" x2="89.70" y2="541.20" stroke="#ee4040" stroke-width="1.2" stroke-dasharray="1.3 3.3" stroke-opacity="0.6"/>
<line x1="89.70" y1="538.70" x2="188.00" y2="514.60" stroke="#4646ff" stroke-width="1.2" stroke-dasharray="1.3 3.3" stroke-opacity="0.6"/>
<line x1="47.50" y1="543.00" x2="89.70" y2="540.20" stroke="#4646ff" stroke-width="1.2" stroke-dasharray="1.3 3.3" stroke-opacity="0.6"/>
<circle cx="47.50" cy="467.40" r="2.25" fill="#0000ff"/>
<circle cx="47.50" cy="473.70" r="2.25" fill="#0000ff"/>
<circle cx="47.50" cy="498.90" r="2.25" fill="#0000ff"/>
<circle cx="47.50" cy="503.00" r="2.25" fill="#0000ff"/>
<circle cx="47.50" cy="507.20" r="2.25" fill="#0000ff"/>
<circle cx="47.50" cy="509.10" r="2.25" fill="#0000ff"/>
<circle cx="47.50" cy="513.40" r="2.25" fill="#0000ff"/>
<circle cx="47.50" cy="518.10" r="2.25" fill="#0000ff"/>
<circle cx="47.50" cy="525.60" r="2.25" fill="#0000ff"/>
<circle cx="47.50" cy="528.00" r="2.25" fill="#0000ff"/>
<circle cx="47.50" cy="530.50" r="2.25" fill="#0000ff"/>
<circle cx="47.50" cy="533.00" r="2.25" fill="#0000ff"/>
<circle cx="47.50" cy="535.50" r="2.25" fill="#0000ff"/>
<circle cx="47.50" cy="543.00" r="2.25" fill="#0000ff"/>
<path d="M44.85 456.80L50.15 456.80L47.50 452.00Z" fill="#dd0000"/>
<path d="M44.85 489.30L50.15 489.30L47.50 484.50Z" fill="#dd0000"/>
<path d="M44.85 492.60L50.15 492.60L47.50 487.80Z" fill="#dd0000"/>
<path d="M44.85 506.80L50.15 506.80L47.50 502.00Z" fill="#dd0000"/>
<path d="M44.85 514.80L50.15 514.80L47.50 510.00Z" fill="#dd0000"/>
<path d="M44.85 530.40L50.15 530.40L47.50 525.60Z" fill="#dd0000"/>
<path d="M44.85 536.90L50.15 536.90L47.50 532.10Z" fill="#dd0000"/>
<path d="M44.85 541.70L50.15 541.70L47.50 536.90Z" fill="#dd0000"/>
<circle cx="89.70" cy="503.20" r="2.25" fill="#0000ff"/>
<circle cx="89.70" cy="525.30" r="2.25" fill="#0000ff"/>
<circle cx="89.70" cy="531.20" r="2.25" fill="#0000ff"/>
<circle cx="89.70" cy="536.60" r="2.25" fill="#0000ff"/>
<circle cx="89.70" cy="538.70" r="2.25" fill="#0000ff"/>
<circle cx="89.70" cy="540.20" r="2.25" fill="#0000ff"/>
<path d="M87.05 543.60L92.35 543.60L89.70 538.80Z" fill="#dd0000"/>
<circle cx="188.00" cy="514.60" r="2.25" fill="#0000ff"/>
<polyline points="47.50,530.30 89.70,531.20 188.00,514.60" fill="none" stroke="#0000ff" stroke-width="1.5"/>
<polyline points="47.50,509.10 89.70,540.20" fill="none" stroke="#dd0000" stroke-width="1.5"/>
<path d="M40.50 450.80V546.80H194.00" fill="none" stroke="#262626" stroke-width="1.5" stroke-linecap="square"/>
<line x1="37.30" y1="542.80" x2="40.50" y2="542.80" stroke="#262626" stroke-width="1"/>
<text x="34.50" y="545.05" font-size="7.7" text-anchor="end" fill="#000" stroke="#000" stroke-width="0.05" textLength="4.1" lengthAdjust="spacingAndGlyphs">0</text>
<line x1="37.30" y1="518.50" x2="40.50" y2="518.50" stroke="#262626" stroke-width="1"/>
<text x="34.50" y="520.75" font-size="7.7" text-anchor="end" fill="#000" stroke="#000" stroke-width="0.05" textLength="8.2" lengthAdjust="spacingAndGlyphs">50</text>
<line x1="37.30" y1="494.20" x2="40.50" y2="494.20" stroke="#262626" stroke-width="1"/>
<text x="34.50" y="496.45" font-size="7.7" text-anchor="end" fill="#000" stroke="#000" stroke-width="0.05" textLength="12.299999999999999" lengthAdjust="spacingAndGlyphs">100</text>
<line x1="37.30" y1="470.20" x2="40.50" y2="470.20" stroke="#262626" stroke-width="1"/>
<text x="34.50" y="472.45" font-size="7.7" text-anchor="end" fill="#000" stroke="#000" stroke-width="0.05" textLength="12.299999999999999" lengthAdjust="spacingAndGlyphs">150</text>
<line x1="52.20" y1="546.80" x2="52.20" y2="549.80" stroke="#262626" stroke-width="1"/>
<text x="52.20" y="559.60" font-size="7.7" text-anchor="middle" fill="#000" stroke="#000" stroke-width="0.05" textLength="4.1" lengthAdjust="spacingAndGlyphs">0</text>
<line x1="89.70" y1="546.80" x2="89.70" y2="549.80" stroke="#262626" stroke-width="1"/>
<text x="89.70" y="559.60" font-size="7.7" text-anchor="middle" fill="#000" stroke="#000" stroke-width="0.05" textLength="12.299999999999999" lengthAdjust="spacingAndGlyphs">100</text>
<line x1="126.40" y1="546.80" x2="126.40" y2="549.80" stroke="#262626" stroke-width="1"/>
<text x="126.40" y="559.60" font-size="7.7" text-anchor="middle" fill="#000" stroke="#000" stroke-width="0.05" textLength="12.299999999999999" lengthAdjust="spacingAndGlyphs">200</text>
<line x1="163.30" y1="546.80" x2="163.30" y2="549.80" stroke="#262626" stroke-width="1"/>
<text x="163.30" y="559.60" font-size="7.7" text-anchor="middle" fill="#000" stroke="#000" stroke-width="0.05" textLength="12.299999999999999" lengthAdjust="spacingAndGlyphs">300</text>
<text x="117.25" y="573.90" font-size="9.75" text-anchor="middle" fill="#000" stroke="#000" stroke-width="0.2" textLength="84.4" lengthAdjust="spacingAndGlyphs">Days from transplant</text>
<text x="0" y="0" transform="translate(14.80,498.70) rotate(-90)" font-size="9.8" text-anchor="middle" fill="#000" stroke="#000" stroke-width="0.2" textLength="103.3" lengthAdjust="spacingAndGlyphs">Quantitative IgM (mg/dL)</text>
<line x1="196.80" y1="490.40" x2="211.90" y2="490.40" stroke="#4d3d95" stroke-width="1.5"/>
<circle cx="204.35" cy="490.40" r="2.2" fill="#2a0d6b"/>
<line x1="196.80" y1="502.15" x2="211.90" y2="502.15" stroke="#d02020" stroke-width="1.5"/>
<path d="M201.65 504.55L207.05 504.55L204.35 499.95Z" fill="#cc0000"/>
<text x="214.60" y="492.75" font-size="7.6" text-anchor="start" fill="#000" stroke="#000" stroke-width="0.2" textLength="13.1" lengthAdjust="spacingAndGlyphs">HLH</text>
<text x="214.60" y="504.55" font-size="7.6" text-anchor="start" fill="#000" stroke="#000" stroke-width="0.2" textLength="30.7" lengthAdjust="spacingAndGlyphs">Other PID</text>
<line x1="312.10" y1="460.60" x2="353.80" y2="501.40" stroke="#4646ff" stroke-width="1.2" stroke-dasharray="1.3 3.3" stroke-opacity="0.6"/>
<line x1="312.10" y1="475.30" x2="353.80" y2="529.60" stroke="#4646ff" stroke-width="1.2" stroke-dasharray="1.3 3.3" stroke-opacity="0.6"/>
<line x1="312.10" y1="490.50" x2="353.80" y2="459.40" stroke="#4646ff" stroke-width="1.2" stroke-dasharray="1.3 3.3" stroke-opacity="0.6"/>
<line x1="312.10" y1="495.00" x2="353.80" y2="455.10" stroke="#4646ff" stroke-width="1.2" stroke-dasharray="1.3 3.3" stroke-opacity="0.6"/>
<line x1="312.10" y1="500.00" x2="353.80" y2="471.40" stroke="#4646ff" stroke-width="1.2" stroke-dasharray="1.3 3.3" stroke-opacity="0.6"/>
<line x1="312.10" y1="505.00" x2="353.80" y2="482.90" stroke="#4646ff" stroke-width="1.2" stroke-dasharray="1.3 3.3" stroke-opacity="0.6"/>
<line x1="312.10" y1="520.40" x2="353.80" y2="492.80" stroke="#4646ff" stroke-width="1.2" stroke-dasharray="1.3 3.3" stroke-opacity="0.6"/>
<line x1="312.10" y1="527.00" x2="353.80" y2="498.80" stroke="#4646ff" stroke-width="1.2" stroke-dasharray="1.3 3.3" stroke-opacity="0.6"/>
<line x1="312.10" y1="535.50" x2="353.80" y2="529.60" stroke="#4646ff" stroke-width="1.2" stroke-dasharray="1.3 3.3" stroke-opacity="0.6"/>
<line x1="312.10" y1="512.40" x2="353.80" y2="519.30" stroke="#ee4040" stroke-width="1.2" stroke-dasharray="1.3 3.3" stroke-opacity="0.6"/>
<line x1="312.10" y1="516.70" x2="353.80" y2="522.80" stroke="#ee4040" stroke-width="1.2" stroke-dasharray="1.3 3.3" stroke-opacity="0.6"/>
<line x1="312.10" y1="530.30" x2="353.80" y2="533.90" stroke="#ee4040" stroke-width="1.2" stroke-dasharray="1.3 3.3" stroke-opacity="0.6"/>
<line x1="312.10" y1="514.80" x2="353.80" y2="537.30" stroke="#ee4040" stroke-width="1.2" stroke-dasharray="1.3 3.3" stroke-opacity="0.6"/>
<line x1="353.80" y1="501.40" x2="450.30" y2="527.30" stroke="#4646ff" stroke-width="1.2" stroke-dasharray="1.3 3.3" stroke-opacity="0.6"/>
<line x1="353.80" y1="522.80" x2="450.30" y2="528.90" stroke="#ee4040" stroke-width="1.2" stroke-dasharray="1.3 3.3" stroke-opacity="0.6"/>
<line x1="353.80" y1="519.30" x2="365.00" y2="519.30" stroke="#ee4040" stroke-width="1.2" stroke-dasharray="1.3 3.3" stroke-opacity="0.6"/>
<line x1="353.80" y1="501.40" x2="365.00" y2="503.00" stroke="#4646ff" stroke-width="1.2" stroke-dasharray="1.3 3.3" stroke-opacity="0.6"/>
<circle cx="312.10" cy="460.60" r="2.25" fill="#0000ff"/>
<circle cx="312.10" cy="475.30" r="2.25" fill="#0000ff"/>
<circle cx="312.10" cy="490.50" r="2.25" fill="#0000ff"/>
<circle cx="312.10" cy="492.70" r="2.25" fill="#0000ff"/>
<circle cx="312.10" cy="495.00" r="2.25" fill="#0000ff"/>
<circle cx="312.10" cy="497.50" r="2.25" fill="#0000ff"/>
<circle cx="312.10" cy="500.00" r="2.25" fill="#0000ff"/>
<circle cx="312.10" cy="502.50" r="2.25" fill="#0000ff"/>
<circle cx="312.10" cy="505.00" r="2.25" fill="#0000ff"/>
<circle cx="312.10" cy="507.50" r="2.25" fill="#0000ff"/>
<circle cx="312.10" cy="510.50" r="2.25" fill="#0000ff"/>
<circle cx="312.10" cy="520.40" r="2.25" fill="#0000ff"/>
<circle cx="312.10" cy="525.10" r="2.25" fill="#0000ff"/>
<circle cx="312.10" cy="527.00" r="2.25" fill="#0000ff"/>
<circle cx="312.10" cy="532.70" r="2.25" fill="#0000ff"/>
<circle cx="312.10" cy="535.50" r="2.25" fill="#0000ff"/>
<circle cx="312.10" cy="540.20" r="2.25" fill="#0000ff"/>
<circle cx="312.10" cy="542.60" r="2.25" fill="#0000ff"/>
<path d="M309.45 500.70L314.75 500.70L312.10 495.90Z" fill="#dd0000"/>
<path d="M309.45 514.80L314.75 514.80L312.10 510.00Z" fill="#dd0000"/>
<path d="M309.45 517.20L314.75 517.20L312.10 512.40Z" fill="#dd0000"/>
<path d="M309.45 519.10L314.75 519.10L312.10 514.30Z" fill="#dd0000"/>
<path d="M309.45 532.70L314.75 532.70L312.10 527.90Z" fill="#dd0000"/>
<circle cx="353.80" cy="455.10" r="2.25" fill="#0000ff"/>
<circle cx="353.80" cy="459.40" r="2.25" fill="#0000ff"/>
<circle cx="353.80" cy="471.40" r="2.25" fill="#0000ff"/>
<circle cx="353.80" cy="482.90" r="2.25" fill="#0000ff"/>
<circle cx="353.80" cy="492.80" r="2.25" fill="#0000ff"/>
<circle cx="353.80" cy="498.80" r="2.25" fill="#0000ff"/>
<circle cx="353.80" cy="501.40" r="2.25" fill="#0000ff"/>
<circle cx="353.80" cy="529.60" r="2.25" fill="#0000ff"/>
<path d="M351.15 521.70L356.45 521.70L353.80 516.90Z" fill="#dd0000"/>
<path d="M351.15 525.20L356.45 525.20L353.80 520.40Z" fill="#dd0000"/>
<path d="M351.15 536.30L356.45 536.30L353.80 531.50Z" fill="#dd0000"/>
<path d="M351.15 539.70L356.45 539.70L353.80 534.90Z" fill="#dd0000"/>
<circle cx="450.30" cy="527.30" r="2.25" fill="#0000ff"/>
<path d="M447.65 531.30L452.95 531.30L450.30 526.50Z" fill="#dd0000"/>
<polyline points="312.10,508.70 353.80,495.90 450.30,527.30" fill="none" stroke="#0000ff" stroke-width="1.5"/>
<polyline points="312.10,515.20 353.80,529.60 450.30,528.90" fill="none" stroke="#dd0000" stroke-width="1.5"/>
<path d="M305.00 450.50V546.80H457.50" fill="none" stroke="#262626" stroke-width="1.5" stroke-linecap="square"/>
<line x1="301.80" y1="527.40" x2="305.00" y2="527.40" stroke="#262626" stroke-width="1"/>
<text x="299.00" y="529.65" font-size="7.7" text-anchor="end" fill="#000" stroke="#000" stroke-width="0.05" textLength="12.299999999999999" lengthAdjust="spacingAndGlyphs">400</text>
<line x1="301.80" y1="503.50" x2="305.00" y2="503.50" stroke="#262626" stroke-width="1"/>
<text x="299.00" y="505.75" font-size="7.7" text-anchor="end" fill="#000" stroke="#000" stroke-width="0.05" textLength="12.299999999999999" lengthAdjust="spacingAndGlyphs">800</text>
<line x1="301.80" y1="479.50" x2="305.00" y2="479.50" stroke="#262626" stroke-width="1"/>
<text x="299.00" y="481.75" font-size="7.7" text-anchor="end" fill="#000" stroke="#000" stroke-width="0.05" textLength="16.4" lengthAdjust="spacingAndGlyphs">1200</text>
<line x1="301.80" y1="455.50" x2="305.00" y2="455.50" stroke="#262626" stroke-width="1"/>
<text x="299.00" y="457.75" font-size="7.7" text-anchor="end" fill="#000" stroke="#000" stroke-width="0.05" textLength="16.4" lengthAdjust="spacingAndGlyphs">1600</text>
<line x1="316.90" y1="546.80" x2="316.90" y2="549.80" stroke="#262626" stroke-width="1"/>
<text x="316.90" y="559.60" font-size="7.7" text-anchor="middle" fill="#000" stroke="#000" stroke-width="0.05" textLength="4.1" lengthAdjust="spacingAndGlyphs">0</text>
<line x1="353.50" y1="546.80" x2="353.50" y2="549.80" stroke="#262626" stroke-width="1"/>
<text x="353.50" y="559.60" font-size="7.7" text-anchor="middle" fill="#000" stroke="#000" stroke-width="0.05" textLength="12.299999999999999" lengthAdjust="spacingAndGlyphs">100</text>
<line x1="389.80" y1="546.80" x2="389.80" y2="549.80" stroke="#262626" stroke-width="1"/>
<text x="389.80" y="559.60" font-size="7.7" text-anchor="middle" fill="#000" stroke="#000" stroke-width="0.05" textLength="12.299999999999999" lengthAdjust="spacingAndGlyphs">200</text>
<line x1="426.20" y1="546.80" x2="426.20" y2="549.80" stroke="#262626" stroke-width="1"/>
<text x="426.20" y="559.60" font-size="7.7" text-anchor="middle" fill="#000" stroke="#000" stroke-width="0.05" textLength="12.299999999999999" lengthAdjust="spacingAndGlyphs">300</text>
<text x="381.25" y="573.90" font-size="9.75" text-anchor="middle" fill="#000" stroke="#000" stroke-width="0.2" textLength="84.4" lengthAdjust="spacingAndGlyphs">Days from transplant</text>
<text x="0" y="0" transform="translate(274.90,499.00) rotate(-90)" font-size="9.8" text-anchor="middle" fill="#000" stroke="#000" stroke-width="0.2" textLength="101" lengthAdjust="spacingAndGlyphs">Quantitative IgG (mg/dL)</text>
<line x1="459.10" y1="490.10" x2="472.90" y2="490.10" stroke="#4d3d95" stroke-width="1.5"/>
<circle cx="466.00" cy="490.10" r="2.2" fill="#2a0d6b"/>
<line x1="459.10" y1="501.45" x2="472.90" y2="501.45" stroke="#d02020" stroke-width="1.5"/>
<path d="M463.30 503.85L468.70 503.85L466.00 499.25Z" fill="#cc0000"/>
<text x="476.80" y="492.45" font-size="7.6" text-anchor="start" fill="#000" stroke="#000" stroke-width="0.2" textLength="13.1" lengthAdjust="spacingAndGlyphs">HLH</text>
<text x="476.80" y="503.85" font-size="7.6" text-anchor="start" fill="#000" stroke="#000" stroke-width="0.2" textLength="30.7" lengthAdjust="spacingAndGlyphs">Other PID</text>
<path d="M0.7 3.1H519.2V583.2H0.7Z" fill="none" stroke="#000" stroke-width="1.5"/>
</svg>
</body></html>
